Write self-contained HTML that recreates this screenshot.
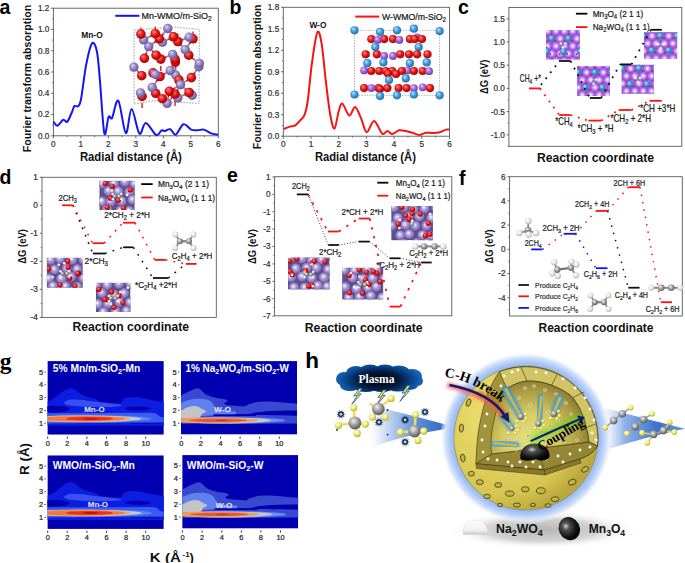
<!DOCTYPE html><html><head><meta charset="utf-8"><style>html,body{margin:0;padding:0;background:#fff;width:685px;height:563px;overflow:hidden}svg{display:block}</style></head><body>
<svg width="685" height="563" viewBox="0 0 685 563" font-family="'Liberation Sans', sans-serif">
<defs>
<radialGradient id="gRed" cx="45%" cy="45%" r="60%" fx="35%" fy="30%"><stop offset="0" stop-color="#ff8c8c"/><stop offset="0.55" stop-color="#e21414"/><stop offset="1" stop-color="#960000"/></radialGradient>
<radialGradient id="gPur" cx="45%" cy="45%" r="60%" fx="35%" fy="30%"><stop offset="0" stop-color="#dcd4f0"/><stop offset="0.55" stop-color="#9080c0"/><stop offset="1" stop-color="#5e4e8e"/></radialGradient>
<radialGradient id="gBlu" cx="45%" cy="45%" r="60%" fx="35%" fy="30%"><stop offset="0" stop-color="#b8e4ff"/><stop offset="0.55" stop-color="#3a98d8"/><stop offset="1" stop-color="#1a6aa8"/></radialGradient>
<radialGradient id="gVio" cx="45%" cy="45%" r="60%" fx="35%" fy="30%"><stop offset="0" stop-color="#e8c8ff"/><stop offset="0.55" stop-color="#a060d8"/><stop offset="1" stop-color="#7038a8"/></radialGradient>
<radialGradient id="gGray" cx="45%" cy="45%" r="60%" fx="35%" fy="30%"><stop offset="0" stop-color="#ffffff"/><stop offset="0.55" stop-color="#9a9a9a"/><stop offset="1" stop-color="#5a5a5a"/></radialGradient>
<radialGradient id="gWhite" cx="45%" cy="45%" r="60%" fx="35%" fy="30%"><stop offset="0" stop-color="#ffffff"/><stop offset="0.55" stop-color="#e8e8e8"/><stop offset="1" stop-color="#a8a8a8"/></radialGradient>
<radialGradient id="gYel" cx="45%" cy="45%" r="60%" fx="35%" fy="30%"><stop offset="0" stop-color="#ffffd0"/><stop offset="0.55" stop-color="#f0e870"/><stop offset="1" stop-color="#c8b838"/></radialGradient>
<radialGradient id="gBlack" cx="45%" cy="45%" r="60%" fx="35%" fy="30%"><stop offset="0" stop-color="#b0b0b0"/><stop offset="0.55" stop-color="#303030"/><stop offset="1" stop-color="#000000"/></radialGradient>
</defs>
<text x="-0.5" y="13.8" font-size="19.5" font-family="'Liberation Sans', sans-serif" fill="#000" font-weight="bold" >a</text>
<path d="M134,30 L174,27 L199.3,29.4 L199,103.4 L183,102.5 L154,100.7 L134,104 Z" fill="none" stroke="#555" stroke-width="0.55" stroke-dasharray="1.6 1.3"/>
<line x1="167.8" y1="28.5" x2="163.55" y2="33.65" stroke="#9484c4" stroke-width="1.7"/>
<line x1="163.55" y1="33.65" x2="159.3" y2="38.8" stroke="#e01818" stroke-width="1.7"/>
<line x1="167.8" y1="28.5" x2="170.65" y2="32.65" stroke="#9484c4" stroke-width="1.7"/>
<line x1="170.65" y1="32.65" x2="173.5" y2="36.8" stroke="#e01818" stroke-width="1.7"/>
<line x1="143.6" y1="39.9" x2="142.25" y2="37" stroke="#9484c4" stroke-width="1.7"/>
<line x1="142.25" y1="37" x2="140.9" y2="34.1" stroke="#e01818" stroke-width="1.7"/>
<line x1="143.6" y1="39.9" x2="149.45" y2="36.8" stroke="#9484c4" stroke-width="1.7"/>
<line x1="149.45" y1="36.8" x2="155.3" y2="33.7" stroke="#e01818" stroke-width="1.7"/>
<line x1="148.7" y1="46.6" x2="154" y2="42.7" stroke="#9484c4" stroke-width="1.7"/>
<line x1="154" y1="42.7" x2="159.3" y2="38.8" stroke="#e01818" stroke-width="1.7"/>
<line x1="148.7" y1="46.6" x2="146.55" y2="52.45" stroke="#9484c4" stroke-width="1.7"/>
<line x1="146.55" y1="52.45" x2="144.4" y2="58.3" stroke="#e01818" stroke-width="1.7"/>
<line x1="148.7" y1="46.6" x2="152.4" y2="50.9" stroke="#9484c4" stroke-width="1.7"/>
<line x1="152.4" y1="50.9" x2="156.1" y2="55.2" stroke="#e01818" stroke-width="1.7"/>
<line x1="162.4" y1="42.3" x2="158.85" y2="38" stroke="#9484c4" stroke-width="1.7"/>
<line x1="158.85" y1="38" x2="155.3" y2="33.7" stroke="#e01818" stroke-width="1.7"/>
<line x1="162.4" y1="42.3" x2="160.85" y2="40.55" stroke="#9484c4" stroke-width="1.7"/>
<line x1="160.85" y1="40.55" x2="159.3" y2="38.8" stroke="#e01818" stroke-width="1.7"/>
<line x1="162.4" y1="42.3" x2="167.95" y2="39.55" stroke="#9484c4" stroke-width="1.7"/>
<line x1="167.95" y1="39.55" x2="173.5" y2="36.8" stroke="#e01818" stroke-width="1.7"/>
<line x1="189.1" y1="37.2" x2="183.45" y2="39.35" stroke="#9484c4" stroke-width="1.7"/>
<line x1="183.45" y1="39.35" x2="177.8" y2="41.5" stroke="#e01818" stroke-width="1.7"/>
<line x1="189.1" y1="37.2" x2="191.05" y2="38" stroke="#9484c4" stroke-width="1.7"/>
<line x1="191.05" y1="38" x2="193" y2="38.8" stroke="#e01818" stroke-width="1.7"/>
<line x1="185.2" y1="49.7" x2="181.5" y2="45.6" stroke="#9484c4" stroke-width="1.7"/>
<line x1="181.5" y1="45.6" x2="177.8" y2="41.5" stroke="#e01818" stroke-width="1.7"/>
<line x1="185.2" y1="49.7" x2="189.1" y2="44.25" stroke="#9484c4" stroke-width="1.7"/>
<line x1="189.1" y1="44.25" x2="193" y2="38.8" stroke="#e01818" stroke-width="1.7"/>
<line x1="185.2" y1="49.7" x2="186.95" y2="52.45" stroke="#9484c4" stroke-width="1.7"/>
<line x1="186.95" y1="52.45" x2="188.7" y2="55.2" stroke="#e01818" stroke-width="1.7"/>
<line x1="172.7" y1="54.4" x2="166.75" y2="56.75" stroke="#9484c4" stroke-width="1.7"/>
<line x1="166.75" y1="56.75" x2="160.8" y2="59.1" stroke="#e01818" stroke-width="1.7"/>
<line x1="172.7" y1="54.4" x2="173.85" y2="56.75" stroke="#9484c4" stroke-width="1.7"/>
<line x1="173.85" y1="56.75" x2="175" y2="59.1" stroke="#e01818" stroke-width="1.7"/>
<line x1="172.7" y1="54.4" x2="174.05" y2="58.2" stroke="#9484c4" stroke-width="1.7"/>
<line x1="174.05" y1="58.2" x2="175.4" y2="62" stroke="#e01818" stroke-width="1.7"/>
<line x1="199.3" y1="63.4" x2="194" y2="59.3" stroke="#9484c4" stroke-width="1.7"/>
<line x1="194" y1="59.3" x2="188.7" y2="55.2" stroke="#e01818" stroke-width="1.7"/>
<line x1="133.9" y1="67.1" x2="137.8" y2="71.4" stroke="#9484c4" stroke-width="1.7"/>
<line x1="137.8" y1="71.4" x2="141.7" y2="75.7" stroke="#e01818" stroke-width="1.7"/>
<line x1="155.3" y1="74.5" x2="154.15" y2="73.7" stroke="#9484c4" stroke-width="1.7"/>
<line x1="154.15" y1="73.7" x2="153" y2="72.9" stroke="#e01818" stroke-width="1.7"/>
<line x1="155.3" y1="74.5" x2="157.65" y2="75.5" stroke="#9484c4" stroke-width="1.7"/>
<line x1="157.65" y1="75.5" x2="160" y2="76.5" stroke="#e01818" stroke-width="1.7"/>
<line x1="152.2" y1="87.4" x2="156.1" y2="81.95" stroke="#9484c4" stroke-width="1.7"/>
<line x1="156.1" y1="81.95" x2="160" y2="76.5" stroke="#e01818" stroke-width="1.7"/>
<line x1="152.2" y1="87.4" x2="153.95" y2="90.35" stroke="#9484c4" stroke-width="1.7"/>
<line x1="153.95" y1="90.35" x2="155.7" y2="93.3" stroke="#e01818" stroke-width="1.7"/>
<line x1="140.5" y1="92.9" x2="141.3" y2="94.65" stroke="#9484c4" stroke-width="1.7"/>
<line x1="141.3" y1="94.65" x2="142.1" y2="96.4" stroke="#e01818" stroke-width="1.7"/>
<line x1="170.2" y1="70.6" x2="172.6" y2="64.85" stroke="#9484c4" stroke-width="1.7"/>
<line x1="172.6" y1="64.85" x2="175" y2="59.1" stroke="#e01818" stroke-width="1.7"/>
<line x1="170.2" y1="70.6" x2="165.1" y2="73.55" stroke="#9484c4" stroke-width="1.7"/>
<line x1="165.1" y1="73.55" x2="160" y2="76.5" stroke="#e01818" stroke-width="1.7"/>
<line x1="170.2" y1="70.6" x2="174.55" y2="75.3" stroke="#9484c4" stroke-width="1.7"/>
<line x1="174.55" y1="75.3" x2="178.9" y2="80" stroke="#e01818" stroke-width="1.7"/>
<line x1="170.2" y1="70.6" x2="172.8" y2="66.3" stroke="#9484c4" stroke-width="1.7"/>
<line x1="172.8" y1="66.3" x2="175.4" y2="62" stroke="#e01818" stroke-width="1.7"/>
<line x1="167.1" y1="103.4" x2="164.75" y2="101.05" stroke="#9484c4" stroke-width="1.7"/>
<line x1="164.75" y1="101.05" x2="162.4" y2="98.7" stroke="#e01818" stroke-width="1.7"/>
<line x1="167.1" y1="103.4" x2="168.25" y2="97.35" stroke="#9484c4" stroke-width="1.7"/>
<line x1="168.25" y1="97.35" x2="169.4" y2="91.3" stroke="#e01818" stroke-width="1.7"/>
<line x1="167.1" y1="103.4" x2="171.05" y2="98.7" stroke="#9484c4" stroke-width="1.7"/>
<line x1="171.05" y1="98.7" x2="175" y2="94" stroke="#e01818" stroke-width="1.7"/>
<line x1="198.9" y1="66.7" x2="195.15" y2="72.15" stroke="#9484c4" stroke-width="1.7"/>
<line x1="195.15" y1="72.15" x2="191.4" y2="77.6" stroke="#e01818" stroke-width="1.7"/>
<line x1="175.8" y1="75.3" x2="177.35" y2="77.65" stroke="#9484c4" stroke-width="1.7"/>
<line x1="177.35" y1="77.65" x2="178.9" y2="80" stroke="#e01818" stroke-width="1.7"/>
<line x1="175.8" y1="75.3" x2="175.6" y2="68.65" stroke="#9484c4" stroke-width="1.7"/>
<line x1="175.6" y1="68.65" x2="175.4" y2="62" stroke="#e01818" stroke-width="1.7"/>
<line x1="180.5" y1="84.7" x2="174.95" y2="88" stroke="#9484c4" stroke-width="1.7"/>
<line x1="174.95" y1="88" x2="169.4" y2="91.3" stroke="#e01818" stroke-width="1.7"/>
<line x1="180.5" y1="84.7" x2="179.7" y2="82.35" stroke="#9484c4" stroke-width="1.7"/>
<line x1="179.7" y1="82.35" x2="178.9" y2="80" stroke="#e01818" stroke-width="1.7"/>
<line x1="180.5" y1="84.7" x2="185.95" y2="81.15" stroke="#9484c4" stroke-width="1.7"/>
<line x1="185.95" y1="81.15" x2="191.4" y2="77.6" stroke="#e01818" stroke-width="1.7"/>
<line x1="180.5" y1="84.7" x2="177.75" y2="89.35" stroke="#9484c4" stroke-width="1.7"/>
<line x1="177.75" y1="89.35" x2="175" y2="94" stroke="#e01818" stroke-width="1.7"/>
<line x1="180.5" y1="84.7" x2="184.8" y2="88.6" stroke="#9484c4" stroke-width="1.7"/>
<line x1="184.8" y1="88.6" x2="189.1" y2="92.5" stroke="#e01818" stroke-width="1.7"/>
<line x1="177.8" y1="97.9" x2="173.6" y2="94.6" stroke="#9484c4" stroke-width="1.7"/>
<line x1="173.6" y1="94.6" x2="169.4" y2="91.3" stroke="#e01818" stroke-width="1.7"/>
<line x1="177.8" y1="97.9" x2="176.4" y2="95.95" stroke="#9484c4" stroke-width="1.7"/>
<line x1="176.4" y1="95.95" x2="175" y2="94" stroke="#e01818" stroke-width="1.7"/>
<line x1="177.8" y1="97.9" x2="183.45" y2="95.2" stroke="#9484c4" stroke-width="1.7"/>
<line x1="183.45" y1="95.2" x2="189.1" y2="92.5" stroke="#e01818" stroke-width="1.7"/>
<line x1="192.2" y1="95.2" x2="190.65" y2="93.85" stroke="#9484c4" stroke-width="1.7"/>
<line x1="190.65" y1="93.85" x2="189.1" y2="92.5" stroke="#e01818" stroke-width="1.7"/>
<line x1="155.3" y1="26.5" x2="155.3" y2="31.5" stroke="#e01818" stroke-width="1.4"/>
<line x1="140.9" y1="27.5" x2="140.9" y2="32.5" stroke="#e01818" stroke-width="1.4"/>
<line x1="177.8" y1="33.5" x2="177.8" y2="38.5" stroke="#e01818" stroke-width="1.4"/>
<line x1="193" y1="31.5" x2="193" y2="36.5" stroke="#e01818" stroke-width="1.4"/>
<line x1="160.8" y1="66" x2="160.8" y2="71" stroke="#e01818" stroke-width="1.4"/>
<line x1="175" y1="101" x2="175" y2="106" stroke="#e01818" stroke-width="1.4"/>
<line x1="142.1" y1="103" x2="142.1" y2="108" stroke="#e01818" stroke-width="1.4"/>
<circle cx="141.7" cy="75.7" r="4.8" fill="url(#gRed)"/>
<circle cx="162.4" cy="42.3" r="4.7" fill="url(#gPur)"/>
<circle cx="148.7" cy="46.6" r="4.7" fill="url(#gPur)"/>
<circle cx="160.8" cy="59.1" r="4.8" fill="url(#gRed)"/>
<circle cx="177.8" cy="97.9" r="4.7" fill="url(#gPur)"/>
<circle cx="175" cy="94" r="4.8" fill="url(#gRed)"/>
<circle cx="198.9" cy="66.7" r="4.7" fill="url(#gPur)"/>
<circle cx="191.4" cy="77.6" r="4.8" fill="url(#gRed)"/>
<circle cx="192.2" cy="95.2" r="4.7" fill="url(#gPur)"/>
<circle cx="175.8" cy="75.3" r="4.7" fill="url(#gPur)"/>
<circle cx="142.1" cy="96.4" r="4.8" fill="url(#gRed)"/>
<circle cx="133.9" cy="67.1" r="4.7" fill="url(#gPur)"/>
<circle cx="175.4" cy="62" r="4.8" fill="url(#gRed)"/>
<circle cx="188.7" cy="55.2" r="4.8" fill="url(#gRed)"/>
<circle cx="199.3" cy="63.4" r="4.7" fill="url(#gPur)"/>
<circle cx="159.3" cy="38.8" r="4.8" fill="url(#gRed)"/>
<circle cx="143.6" cy="39.9" r="4.7" fill="url(#gPur)"/>
<circle cx="167.1" cy="103.4" r="4.7" fill="url(#gPur)"/>
<circle cx="156.1" cy="55.2" r="4.8" fill="url(#gRed)"/>
<circle cx="193" cy="38.8" r="4.8" fill="url(#gRed)"/>
<circle cx="160" cy="76.5" r="4.8" fill="url(#gRed)"/>
<circle cx="177.8" cy="41.5" r="4.8" fill="url(#gRed)"/>
<circle cx="140.9" cy="34.1" r="4.8" fill="url(#gRed)"/>
<circle cx="185.2" cy="49.7" r="4.7" fill="url(#gPur)"/>
<circle cx="178.9" cy="80" r="4.8" fill="url(#gRed)"/>
<circle cx="140.5" cy="92.9" r="4.7" fill="url(#gPur)"/>
<circle cx="169.4" cy="91.3" r="4.8" fill="url(#gRed)"/>
<circle cx="153" cy="72.9" r="4.8" fill="url(#gRed)"/>
<circle cx="155.3" cy="74.5" r="4.7" fill="url(#gPur)"/>
<circle cx="189.1" cy="37.2" r="4.7" fill="url(#gPur)"/>
<circle cx="170.2" cy="70.6" r="4.7" fill="url(#gPur)"/>
<circle cx="167.8" cy="28.5" r="4.7" fill="url(#gPur)"/>
<circle cx="173.5" cy="36.8" r="4.8" fill="url(#gRed)"/>
<circle cx="175" cy="59.1" r="4.8" fill="url(#gRed)"/>
<circle cx="144.4" cy="58.3" r="4.8" fill="url(#gRed)"/>
<circle cx="155.7" cy="93.3" r="4.8" fill="url(#gRed)"/>
<circle cx="172.7" cy="54.4" r="4.7" fill="url(#gPur)"/>
<circle cx="155.3" cy="33.7" r="4.8" fill="url(#gRed)"/>
<circle cx="152.2" cy="87.4" r="4.7" fill="url(#gPur)"/>
<circle cx="189.1" cy="92.5" r="4.8" fill="url(#gRed)"/>
<circle cx="162.4" cy="98.7" r="4.8" fill="url(#gRed)"/>
<circle cx="180.5" cy="84.7" r="4.7" fill="url(#gPur)"/>
<rect x="53.4" y="8.2" width="164.9" height="127.6" fill="none" stroke="#5a5a5a" stroke-width="0.9"/>
<line x1="53.4" y1="135.8" x2="53.4" y2="138.4" stroke="#555" stroke-width="0.9" />
<text x="53.4" y="146.8" font-size="8.2" font-family="'Liberation Sans', sans-serif" fill="#333" text-anchor="middle" stroke="#333" stroke-width="0.22" >0</text>
<line x1="80.88" y1="135.8" x2="80.88" y2="138.4" stroke="#555" stroke-width="0.9" />
<text x="80.88" y="146.8" font-size="8.2" font-family="'Liberation Sans', sans-serif" fill="#333" text-anchor="middle" stroke="#333" stroke-width="0.22" >1</text>
<line x1="108.37" y1="135.8" x2="108.37" y2="138.4" stroke="#555" stroke-width="0.9" />
<text x="108.37" y="146.8" font-size="8.2" font-family="'Liberation Sans', sans-serif" fill="#333" text-anchor="middle" stroke="#333" stroke-width="0.22" >2</text>
<line x1="135.85" y1="135.8" x2="135.85" y2="138.4" stroke="#555" stroke-width="0.9" />
<text x="135.85" y="146.8" font-size="8.2" font-family="'Liberation Sans', sans-serif" fill="#333" text-anchor="middle" stroke="#333" stroke-width="0.22" >3</text>
<line x1="163.33" y1="135.8" x2="163.33" y2="138.4" stroke="#555" stroke-width="0.9" />
<text x="163.33" y="146.8" font-size="8.2" font-family="'Liberation Sans', sans-serif" fill="#333" text-anchor="middle" stroke="#333" stroke-width="0.22" >4</text>
<line x1="190.82" y1="135.8" x2="190.82" y2="138.4" stroke="#555" stroke-width="0.9" />
<text x="190.82" y="146.8" font-size="8.2" font-family="'Liberation Sans', sans-serif" fill="#333" text-anchor="middle" stroke="#333" stroke-width="0.22" >5</text>
<line x1="218.3" y1="135.8" x2="218.3" y2="138.4" stroke="#555" stroke-width="0.9" />
<text x="218.3" y="146.8" font-size="8.2" font-family="'Liberation Sans', sans-serif" fill="#333" text-anchor="middle" stroke="#333" stroke-width="0.22" >6</text>
<line x1="67.14" y1="135.8" x2="67.14" y2="137.2" stroke="#555" stroke-width="0.8" />
<line x1="94.62" y1="135.8" x2="94.62" y2="137.2" stroke="#555" stroke-width="0.8" />
<line x1="122.11" y1="135.8" x2="122.11" y2="137.2" stroke="#555" stroke-width="0.8" />
<line x1="149.59" y1="135.8" x2="149.59" y2="137.2" stroke="#555" stroke-width="0.8" />
<line x1="177.08" y1="135.8" x2="177.08" y2="137.2" stroke="#555" stroke-width="0.8" />
<line x1="204.56" y1="135.8" x2="204.56" y2="137.2" stroke="#555" stroke-width="0.8" />
<line x1="51.2" y1="135.8" x2="53.4" y2="135.8" stroke="#555" stroke-width="0.9" />
<text x="49.3" y="138.7" font-size="8.2" font-family="'Liberation Sans', sans-serif" fill="#333" text-anchor="end" stroke="#333" stroke-width="0.22" >0.0</text>
<line x1="51.2" y1="114.53" x2="53.4" y2="114.53" stroke="#555" stroke-width="0.9" />
<text x="49.3" y="117.43" font-size="8.2" font-family="'Liberation Sans', sans-serif" fill="#333" text-anchor="end" stroke="#333" stroke-width="0.22" >0.2</text>
<line x1="51.2" y1="93.27" x2="53.4" y2="93.27" stroke="#555" stroke-width="0.9" />
<text x="49.3" y="96.17" font-size="8.2" font-family="'Liberation Sans', sans-serif" fill="#333" text-anchor="end" stroke="#333" stroke-width="0.22" >0.4</text>
<line x1="51.2" y1="72" x2="53.4" y2="72" stroke="#555" stroke-width="0.9" />
<text x="49.3" y="74.9" font-size="8.2" font-family="'Liberation Sans', sans-serif" fill="#333" text-anchor="end" stroke="#333" stroke-width="0.22" >0.6</text>
<line x1="51.2" y1="50.73" x2="53.4" y2="50.73" stroke="#555" stroke-width="0.9" />
<text x="49.3" y="53.63" font-size="8.2" font-family="'Liberation Sans', sans-serif" fill="#333" text-anchor="end" stroke="#333" stroke-width="0.22" >0.8</text>
<line x1="51.2" y1="29.47" x2="53.4" y2="29.47" stroke="#555" stroke-width="0.9" />
<text x="49.3" y="32.37" font-size="8.2" font-family="'Liberation Sans', sans-serif" fill="#333" text-anchor="end" stroke="#333" stroke-width="0.22" >1.0</text>
<line x1="51.2" y1="8.2" x2="53.4" y2="8.2" stroke="#555" stroke-width="0.9" />
<text x="49.3" y="11.1" font-size="8.2" font-family="'Liberation Sans', sans-serif" fill="#333" text-anchor="end" stroke="#333" stroke-width="0.22" >1.2</text>
<line x1="52.1" y1="125.17" x2="53.4" y2="125.17" stroke="#555" stroke-width="0.8" />
<line x1="52.1" y1="103.9" x2="53.4" y2="103.9" stroke="#555" stroke-width="0.8" />
<line x1="52.1" y1="82.63" x2="53.4" y2="82.63" stroke="#555" stroke-width="0.8" />
<line x1="52.1" y1="61.37" x2="53.4" y2="61.37" stroke="#555" stroke-width="0.8" />
<line x1="52.1" y1="40.1" x2="53.4" y2="40.1" stroke="#555" stroke-width="0.8" />
<line x1="52.1" y1="18.83" x2="53.4" y2="18.83" stroke="#555" stroke-width="0.8" />
<text x="30.9" y="152.3" font-size="10.5" font-family="'Liberation Sans', sans-serif" fill="#111" font-weight="bold" textLength="147.5" lengthAdjust="spacingAndGlyphs" transform="rotate(-90 30.9 152.3)" >Fourier transform absorption</text>
<text x="79.9" y="160.9" font-size="12" font-family="'Liberation Sans', sans-serif" fill="#111" font-weight="bold" textLength="102" lengthAdjust="spacingAndGlyphs" >Radial distance (Å)</text>
<line x1="115.3" y1="15.8" x2="139.4" y2="15.8" stroke="#1010ff" stroke-width="2" />
<text x="141.5" y="19.2" font-size="9" font-family="'Liberation Sans', sans-serif" fill="#1a1a1a" textLength="70" lengthAdjust="spacingAndGlyphs" stroke="#1a1a1a" stroke-width="0.22" >Mn-WMO/m-SiO<tspan baseline-shift="-28%" font-size="72%">2</tspan></text>
<text x="81.2" y="38.3" font-size="8.8" font-family="'Liberation Sans', sans-serif" fill="#111" font-weight="bold" textLength="21.5" lengthAdjust="spacingAndGlyphs" >Mn-O</text>
<path d="M53.5,121.8 C54.15,122.45 55.77,126.03 57.4,125.7 C59.03,125.37 61.67,120.45 63.3,119.8 C64.93,119.15 65.75,123.1 67.2,121.8 C68.65,120.5 70.8,114.62 72,112 C73.2,109.38 73.35,107.08 74.4,106.1 C75.45,105.12 77.17,107.4 78.3,106.1 C79.43,104.8 79.9,105.13 81.2,98.3 C82.5,91.47 84.3,74.27 86.1,65.1 C87.9,55.93 90.2,45.57 92,43.3 C93.8,41.03 95.6,45.58 96.9,51.5 C98.2,57.42 98.57,65.2 99.8,78.8 C101.03,92.4 102.83,126.75 104.3,133.1 C105.77,139.45 107.3,119.43 108.6,116.9 C109.9,114.37 110.48,120.6 112.1,117.9 C113.72,115.2 116.02,98.17 118.3,100.7 C120.58,103.23 123.58,131.7 125.8,133.1 C128.02,134.5 129.33,109.02 131.6,109.1 C133.87,109.18 137.03,131.3 139.4,133.6 C141.77,135.9 143,122.67 145.8,122.9 C148.6,123.13 153.57,133.77 156.2,135 C158.83,136.23 160.15,130.97 161.6,130.3 C163.05,129.63 163.45,131.18 164.9,131 C166.35,130.82 168.5,128.6 170.3,129.2 C172.1,129.8 173.5,135.43 175.7,134.6 C177.9,133.77 180.93,125.03 183.5,124.2 C186.07,123.37 188.72,128.58 191.1,129.6 C193.48,130.62 195.67,130.3 197.8,130.3 C199.93,130.3 201.55,129.05 203.9,129.6 C206.25,130.15 209.55,132.75 211.9,133.6 C214.25,134.45 216.98,134.52 218,134.7" fill="none" stroke="#1414f5" stroke-width="2" stroke-linejoin="round"/>
<text x="229.5" y="14.3" font-size="19.5" font-family="'Liberation Sans', sans-serif" fill="#000" font-weight="bold" >b</text>
<path d="M354.5,30.3 L439.6,30.3 L439.6,95.3 L354.5,95.3 Z" fill="none" stroke="#666" stroke-width="0.5" stroke-dasharray="1.5 1.2"/>
<circle cx="413.9" cy="28.7" r="4.1" fill="url(#gBlu)"/>
<circle cx="354.5" cy="30.3" r="4.1" fill="url(#gBlu)"/>
<circle cx="397" cy="30.3" r="4.1" fill="url(#gBlu)"/>
<circle cx="439.6" cy="31.1" r="4.1" fill="url(#gBlu)"/>
<circle cx="380.1" cy="31.9" r="4.1" fill="url(#gBlu)"/>
<circle cx="417.1" cy="37.5" r="3.9" fill="url(#gVio)"/>
<circle cx="371.3" cy="39.1" r="4.1" fill="url(#gRed)"/>
<circle cx="384.2" cy="39.1" r="4.1" fill="url(#gRed)"/>
<circle cx="393" cy="39.1" r="4.1" fill="url(#gRed)"/>
<circle cx="409.9" cy="39.1" r="4.1" fill="url(#gRed)"/>
<circle cx="414.7" cy="39.1" r="4.1" fill="url(#gRed)"/>
<circle cx="421.9" cy="39.1" r="4.1" fill="url(#gRed)"/>
<circle cx="377.7" cy="39.9" r="3.9" fill="url(#gVio)"/>
<circle cx="399.4" cy="39.9" r="3.9" fill="url(#gVio)"/>
<circle cx="375.3" cy="47.1" r="4.1" fill="url(#gBlu)"/>
<circle cx="418.7" cy="47.1" r="4.1" fill="url(#gBlu)"/>
<circle cx="365.7" cy="54.3" r="4.1" fill="url(#gRed)"/>
<circle cx="376.9" cy="54.3" r="4.1" fill="url(#gRed)"/>
<circle cx="400.2" cy="54.3" r="4.1" fill="url(#gRed)"/>
<circle cx="409" cy="54.3" r="4.1" fill="url(#gRed)"/>
<circle cx="417.1" cy="54.3" r="4.1" fill="url(#gRed)"/>
<circle cx="427.5" cy="54.3" r="4.1" fill="url(#gRed)"/>
<circle cx="384.2" cy="56" r="3.9" fill="url(#gVio)"/>
<circle cx="393" cy="56" r="3.9" fill="url(#gVio)"/>
<circle cx="383.4" cy="62.4" r="4.1" fill="url(#gBlu)"/>
<circle cx="426.7" cy="62.4" r="4.1" fill="url(#gBlu)"/>
<circle cx="367.3" cy="63.2" r="4.1" fill="url(#gBlu)"/>
<circle cx="409.9" cy="63.2" r="4.1" fill="url(#gBlu)"/>
<circle cx="364.1" cy="70.4" r="3.9" fill="url(#gVio)"/>
<circle cx="407.4" cy="70.4" r="3.9" fill="url(#gVio)"/>
<circle cx="371.3" cy="71" r="4.1" fill="url(#gRed)"/>
<circle cx="379.3" cy="71" r="4.1" fill="url(#gRed)"/>
<circle cx="385.8" cy="71" r="4.1" fill="url(#gRed)"/>
<circle cx="392.2" cy="71" r="4.1" fill="url(#gRed)"/>
<circle cx="401.8" cy="71" r="4.1" fill="url(#gRed)"/>
<circle cx="413.9" cy="71" r="4.1" fill="url(#gRed)"/>
<circle cx="422.7" cy="71" r="4.1" fill="url(#gRed)"/>
<circle cx="429.1" cy="71.2" r="3.9" fill="url(#gVio)"/>
<circle cx="388" cy="73.5" r="4.1" fill="url(#gRed)"/>
<circle cx="396" cy="74" r="4.1" fill="url(#gRed)"/>
<circle cx="405.8" cy="78.4" r="4.1" fill="url(#gBlu)"/>
<circle cx="389" cy="80" r="4.1" fill="url(#gBlu)"/>
<circle cx="422.7" cy="87.3" r="3.9" fill="url(#gVio)"/>
<circle cx="364.1" cy="88.1" r="4.1" fill="url(#gRed)"/>
<circle cx="378.5" cy="88.1" r="4.1" fill="url(#gRed)"/>
<circle cx="387.4" cy="88.1" r="4.1" fill="url(#gRed)"/>
<circle cx="398.6" cy="88.1" r="4.1" fill="url(#gRed)"/>
<circle cx="406.6" cy="88.1" r="4.1" fill="url(#gRed)"/>
<circle cx="430" cy="88.1" r="4.1" fill="url(#gRed)"/>
<circle cx="371.3" cy="88.1" r="3.9" fill="url(#gVio)"/>
<circle cx="413.9" cy="88.1" r="3.9" fill="url(#gVio)"/>
<circle cx="380" cy="89" r="4.1" fill="url(#gRed)"/>
<circle cx="354.5" cy="94.5" r="4.1" fill="url(#gBlu)"/>
<circle cx="413.9" cy="94.5" r="4.1" fill="url(#gBlu)"/>
<circle cx="397" cy="95.3" r="4.1" fill="url(#gBlu)"/>
<circle cx="439.6" cy="95.3" r="4.1" fill="url(#gBlu)"/>
<circle cx="380.1" cy="96.1" r="4.1" fill="url(#gBlu)"/>
<rect x="283.3" y="7.3" width="166.2" height="128.9" fill="none" stroke="#5a5a5a" stroke-width="0.9"/>
<line x1="283.3" y1="136.2" x2="283.3" y2="138.8" stroke="#555" stroke-width="0.9" />
<text x="283.3" y="147" font-size="8.2" font-family="'Liberation Sans', sans-serif" fill="#333" text-anchor="middle" stroke="#333" stroke-width="0.22" >0</text>
<line x1="311" y1="136.2" x2="311" y2="138.8" stroke="#555" stroke-width="0.9" />
<text x="311" y="147" font-size="8.2" font-family="'Liberation Sans', sans-serif" fill="#333" text-anchor="middle" stroke="#333" stroke-width="0.22" >1</text>
<line x1="338.7" y1="136.2" x2="338.7" y2="138.8" stroke="#555" stroke-width="0.9" />
<text x="338.7" y="147" font-size="8.2" font-family="'Liberation Sans', sans-serif" fill="#333" text-anchor="middle" stroke="#333" stroke-width="0.22" >2</text>
<line x1="366.4" y1="136.2" x2="366.4" y2="138.8" stroke="#555" stroke-width="0.9" />
<text x="366.4" y="147" font-size="8.2" font-family="'Liberation Sans', sans-serif" fill="#333" text-anchor="middle" stroke="#333" stroke-width="0.22" >3</text>
<line x1="394.1" y1="136.2" x2="394.1" y2="138.8" stroke="#555" stroke-width="0.9" />
<text x="394.1" y="147" font-size="8.2" font-family="'Liberation Sans', sans-serif" fill="#333" text-anchor="middle" stroke="#333" stroke-width="0.22" >4</text>
<line x1="421.8" y1="136.2" x2="421.8" y2="138.8" stroke="#555" stroke-width="0.9" />
<text x="421.8" y="147" font-size="8.2" font-family="'Liberation Sans', sans-serif" fill="#333" text-anchor="middle" stroke="#333" stroke-width="0.22" >5</text>
<line x1="449.5" y1="136.2" x2="449.5" y2="138.8" stroke="#555" stroke-width="0.9" />
<text x="449.5" y="147" font-size="8.2" font-family="'Liberation Sans', sans-serif" fill="#333" text-anchor="middle" stroke="#333" stroke-width="0.22" >6</text>
<line x1="297.15" y1="136.2" x2="297.15" y2="137.6" stroke="#555" stroke-width="0.8" />
<line x1="324.85" y1="136.2" x2="324.85" y2="137.6" stroke="#555" stroke-width="0.8" />
<line x1="352.55" y1="136.2" x2="352.55" y2="137.6" stroke="#555" stroke-width="0.8" />
<line x1="380.25" y1="136.2" x2="380.25" y2="137.6" stroke="#555" stroke-width="0.8" />
<line x1="407.95" y1="136.2" x2="407.95" y2="137.6" stroke="#555" stroke-width="0.8" />
<line x1="435.65" y1="136.2" x2="435.65" y2="137.6" stroke="#555" stroke-width="0.8" />
<line x1="281.1" y1="136.2" x2="283.3" y2="136.2" stroke="#555" stroke-width="0.9" />
<text x="279.2" y="139.1" font-size="8.2" font-family="'Liberation Sans', sans-serif" fill="#333" text-anchor="end" stroke="#333" stroke-width="0.22" >0.0</text>
<line x1="281.1" y1="114.72" x2="283.3" y2="114.72" stroke="#555" stroke-width="0.9" />
<text x="279.2" y="117.62" font-size="8.2" font-family="'Liberation Sans', sans-serif" fill="#333" text-anchor="end" stroke="#333" stroke-width="0.22" >0.3</text>
<line x1="281.1" y1="93.23" x2="283.3" y2="93.23" stroke="#555" stroke-width="0.9" />
<text x="279.2" y="96.13" font-size="8.2" font-family="'Liberation Sans', sans-serif" fill="#333" text-anchor="end" stroke="#333" stroke-width="0.22" >0.6</text>
<line x1="281.1" y1="71.75" x2="283.3" y2="71.75" stroke="#555" stroke-width="0.9" />
<text x="279.2" y="74.65" font-size="8.2" font-family="'Liberation Sans', sans-serif" fill="#333" text-anchor="end" stroke="#333" stroke-width="0.22" >0.9</text>
<line x1="281.1" y1="50.27" x2="283.3" y2="50.27" stroke="#555" stroke-width="0.9" />
<text x="279.2" y="53.17" font-size="8.2" font-family="'Liberation Sans', sans-serif" fill="#333" text-anchor="end" stroke="#333" stroke-width="0.22" >1.2</text>
<line x1="281.1" y1="28.78" x2="283.3" y2="28.78" stroke="#555" stroke-width="0.9" />
<text x="279.2" y="31.68" font-size="8.2" font-family="'Liberation Sans', sans-serif" fill="#333" text-anchor="end" stroke="#333" stroke-width="0.22" >1.5</text>
<line x1="281.1" y1="7.3" x2="283.3" y2="7.3" stroke="#555" stroke-width="0.9" />
<text x="279.2" y="10.2" font-size="8.2" font-family="'Liberation Sans', sans-serif" fill="#333" text-anchor="end" stroke="#333" stroke-width="0.22" >1.8</text>
<line x1="282" y1="125.46" x2="283.3" y2="125.46" stroke="#555" stroke-width="0.8" />
<line x1="282" y1="103.97" x2="283.3" y2="103.97" stroke="#555" stroke-width="0.8" />
<line x1="282" y1="82.49" x2="283.3" y2="82.49" stroke="#555" stroke-width="0.8" />
<line x1="282" y1="61.01" x2="283.3" y2="61.01" stroke="#555" stroke-width="0.8" />
<line x1="282" y1="39.52" x2="283.3" y2="39.52" stroke="#555" stroke-width="0.8" />
<line x1="282" y1="18.04" x2="283.3" y2="18.04" stroke="#555" stroke-width="0.8" />
<text x="261.5" y="149.2" font-size="10.5" font-family="'Liberation Sans', sans-serif" fill="#111" font-weight="bold" textLength="144.6" lengthAdjust="spacingAndGlyphs" transform="rotate(-90 261.5 149.2)" >Fourier transform absorption</text>
<text x="314.9" y="161.2" font-size="12" font-family="'Liberation Sans', sans-serif" fill="#111" font-weight="bold" textLength="101" lengthAdjust="spacingAndGlyphs" >Radial distance (Å)</text>
<line x1="355.3" y1="16.6" x2="379.3" y2="16.6" stroke="#ff1010" stroke-width="2" />
<text x="382" y="20" font-size="9" font-family="'Liberation Sans', sans-serif" fill="#1a1a1a" textLength="64" lengthAdjust="spacingAndGlyphs" stroke="#1a1a1a" stroke-width="0.22" >W-WMO/m-SiO<tspan baseline-shift="-28%" font-size="72%">2</tspan></text>
<text x="309.4" y="28" font-size="8.8" font-family="'Liberation Sans', sans-serif" fill="#111" font-weight="bold" textLength="17" lengthAdjust="spacingAndGlyphs" >W-O</text>
<path d="M283.4,129.2 C284.43,128.77 287.68,127.2 289.6,126.6 C291.52,126 293.12,126.67 294.9,125.6 C296.68,124.53 298.7,121.98 300.3,120.2 C301.9,118.42 303.27,118.1 304.5,114.9 C305.73,111.7 306.45,109.7 307.7,101 C308.95,92.3 310.4,74.13 312,62.7 C313.6,51.27 315.7,35.6 317.3,32.4 C318.9,29.2 320.17,35.27 321.6,43.5 C323.03,51.73 324.48,70.08 325.9,81.8 C327.32,93.52 328.68,105.97 330.1,113.8 C331.52,121.63 332.98,129.15 334.4,128.8 C335.82,128.45 337.28,115.9 338.6,111.7 C339.92,107.5 340.52,102.97 342.3,103.6 C344.08,104.23 347.17,114.93 349.3,115.5 C351.43,116.07 353.15,106.57 355.1,107 C357.05,107.43 359.07,113.88 361,118.1 C362.93,122.32 364.52,131.83 366.7,132.3 C368.88,132.77 371.52,120.68 374.1,120.9 C376.68,121.12 379.97,131.92 382.2,133.6 C384.43,135.28 385.83,130.93 387.5,131 C389.17,131.07 390.28,134.12 392.2,134 C394.12,133.88 396.75,130.8 399,130.3 C401.25,129.8 403.47,130.6 405.7,131 C407.93,131.4 410.17,132.03 412.4,132.7 C414.63,133.37 416.87,135 419.1,135 C421.33,135 423.57,133.03 425.8,132.7 C428.03,132.37 430.15,133.07 432.5,133 C434.85,132.93 437.65,132.87 439.9,132.3 C442.15,131.73 444.43,130.05 446,129.6 C447.57,129.15 448.75,129.6 449.3,129.6" fill="none" stroke="#f51414" stroke-width="2" stroke-linejoin="round"/>
<radialGradient id="gPurB" cx="50%" cy="50%" r="50%" fx="42%" fy="38%"><stop offset="0" stop-color="#ffffff"/><stop offset="0.2" stop-color="#ddd4f4"/><stop offset="0.5" stop-color="#a898d4"/><stop offset="0.85" stop-color="#8676ba"/><stop offset="1" stop-color="#5e4e8e"/></radialGradient>
<radialGradient id="gSpot"><stop offset="0" stop-color="#ffffff"/><stop offset="0.3" stop-color="#e4c4fc"/><stop offset="0.65" stop-color="#b478ee"/><stop offset="1" stop-color="#9a58dc"/></radialGradient>
<text x="458" y="14.2" font-size="19.5" font-family="'Liberation Sans', sans-serif" fill="#000" font-weight="bold" >c</text>
<rect x="508.9" y="7.4" width="172.9" height="138.9" fill="none" stroke="#5a5a5a" stroke-width="0.9"/>
<line x1="506.7" y1="18.8" x2="508.9" y2="18.8" stroke="#555" stroke-width="0.9" />
<text x="504.8" y="21.7" font-size="8.2" font-family="'Liberation Sans', sans-serif" fill="#333" text-anchor="end" stroke="#333" stroke-width="0.22" >1.5</text>
<line x1="506.7" y1="42" x2="508.9" y2="42" stroke="#555" stroke-width="0.9" />
<text x="504.8" y="44.9" font-size="8.2" font-family="'Liberation Sans', sans-serif" fill="#333" text-anchor="end" stroke="#333" stroke-width="0.22" >1.0</text>
<line x1="506.7" y1="65.2" x2="508.9" y2="65.2" stroke="#555" stroke-width="0.9" />
<text x="504.8" y="68.1" font-size="8.2" font-family="'Liberation Sans', sans-serif" fill="#333" text-anchor="end" stroke="#333" stroke-width="0.22" >0.5</text>
<line x1="506.7" y1="88.4" x2="508.9" y2="88.4" stroke="#555" stroke-width="0.9" />
<text x="504.8" y="91.3" font-size="8.2" font-family="'Liberation Sans', sans-serif" fill="#333" text-anchor="end" stroke="#333" stroke-width="0.22" >0.0</text>
<line x1="506.7" y1="111.6" x2="508.9" y2="111.6" stroke="#555" stroke-width="0.9" />
<text x="504.8" y="114.5" font-size="8.2" font-family="'Liberation Sans', sans-serif" fill="#333" text-anchor="end" stroke="#333" stroke-width="0.22" >-0.5</text>
<line x1="506.7" y1="134.8" x2="508.9" y2="134.8" stroke="#555" stroke-width="0.9" />
<text x="504.8" y="137.7" font-size="8.2" font-family="'Liberation Sans', sans-serif" fill="#333" text-anchor="end" stroke="#333" stroke-width="0.22" >-1.0</text>
<line x1="507.6" y1="30.4" x2="508.9" y2="30.4" stroke="#555" stroke-width="0.8" />
<line x1="507.6" y1="53.6" x2="508.9" y2="53.6" stroke="#555" stroke-width="0.8" />
<line x1="507.6" y1="76.8" x2="508.9" y2="76.8" stroke="#555" stroke-width="0.8" />
<line x1="507.6" y1="100" x2="508.9" y2="100" stroke="#555" stroke-width="0.8" />
<line x1="507.6" y1="123.2" x2="508.9" y2="123.2" stroke="#555" stroke-width="0.8" />
<line x1="507.6" y1="146.4" x2="508.9" y2="146.4" stroke="#555" stroke-width="0.8" />
<text x="487.8" y="94" font-size="10.5" font-family="'Liberation Sans', sans-serif" fill="#111" font-weight="bold" textLength="34.4" lengthAdjust="spacingAndGlyphs" transform="rotate(-90 487.8 94)" >ΔG (eV)</text>
<text x="537" y="162.3" font-size="12" font-family="'Liberation Sans', sans-serif" fill="#111" font-weight="bold" textLength="117" lengthAdjust="spacingAndGlyphs" >Reaction coordinate</text>
<line x1="575.9" y1="13.7" x2="587.4" y2="13.7" stroke="#000" stroke-width="1.8" />
<text x="592.7" y="17" font-size="9" font-family="'Liberation Sans', sans-serif" fill="#1a1a1a" textLength="50.5" lengthAdjust="spacingAndGlyphs" stroke="#1a1a1a" stroke-width="0.22" >Mn<tspan baseline-shift="-28%" font-size="72%">3</tspan>O<tspan baseline-shift="-28%" font-size="72%">4</tspan> (2 1 1)</text>
<line x1="575.9" y1="27.1" x2="587.4" y2="27.1" stroke="#ff1010" stroke-width="1.8" />
<text x="592.7" y="30.4" font-size="9" font-family="'Liberation Sans', sans-serif" fill="#1a1a1a" textLength="57" lengthAdjust="spacingAndGlyphs" stroke="#1a1a1a" stroke-width="0.22" >Na<tspan baseline-shift="-28%" font-size="72%">2</tspan>WO<tspan baseline-shift="-28%" font-size="72%">4</tspan> (1 1 1)</text>
<clipPath id="cc1"><rect x="546" y="30" width="34" height="29.5"/></clipPath>
<g clip-path="url(#cc1)">
<rect x="546" y="30" width="34" height="29.5" fill="#8c46d0"/>
<circle cx="547.5" cy="31" r="4.3" fill="url(#gSpot)"/>
<circle cx="555.9" cy="31" r="4.3" fill="url(#gSpot)"/>
<circle cx="564.3" cy="31" r="4.3" fill="url(#gSpot)"/>
<circle cx="572.7" cy="31" r="4.3" fill="url(#gSpot)"/>
<circle cx="581.1" cy="31" r="4.3" fill="url(#gSpot)"/>
<circle cx="543.3" cy="38.5" r="4.3" fill="url(#gSpot)"/>
<circle cx="551.7" cy="38.5" r="4.3" fill="url(#gSpot)"/>
<circle cx="560.1" cy="38.5" r="4.3" fill="url(#gSpot)"/>
<circle cx="568.5" cy="38.5" r="4.3" fill="url(#gSpot)"/>
<circle cx="576.9" cy="38.5" r="4.3" fill="url(#gSpot)"/>
<circle cx="547.5" cy="46" r="4.3" fill="url(#gSpot)"/>
<circle cx="555.9" cy="46" r="4.3" fill="url(#gSpot)"/>
<circle cx="564.3" cy="46" r="4.3" fill="url(#gSpot)"/>
<circle cx="572.7" cy="46" r="4.3" fill="url(#gSpot)"/>
<circle cx="581.1" cy="46" r="4.3" fill="url(#gSpot)"/>
<circle cx="543.3" cy="53.5" r="4.3" fill="url(#gSpot)"/>
<circle cx="551.7" cy="53.5" r="4.3" fill="url(#gSpot)"/>
<circle cx="560.1" cy="53.5" r="4.3" fill="url(#gSpot)"/>
<circle cx="568.5" cy="53.5" r="4.3" fill="url(#gSpot)"/>
<circle cx="576.9" cy="53.5" r="4.3" fill="url(#gSpot)"/>
<circle cx="547.5" cy="61" r="4.3" fill="url(#gSpot)"/>
<circle cx="555.9" cy="61" r="4.3" fill="url(#gSpot)"/>
<circle cx="564.3" cy="61" r="4.3" fill="url(#gSpot)"/>
<circle cx="572.7" cy="61" r="4.3" fill="url(#gSpot)"/>
<circle cx="581.1" cy="61" r="4.3" fill="url(#gSpot)"/>
<circle cx="551.7" cy="38.5" r="3.3" fill="url(#gBlu)"/>
<circle cx="551.7" cy="34.3" r="0.95" fill="#e82020"/>
<circle cx="548" cy="40.9" r="0.95" fill="#e82020"/>
<circle cx="555.4" cy="40.9" r="0.95" fill="#e82020"/>
<circle cx="568.5" cy="38.5" r="3.3" fill="url(#gBlu)"/>
<circle cx="568.5" cy="34.3" r="0.95" fill="#e82020"/>
<circle cx="564.8" cy="40.9" r="0.95" fill="#e82020"/>
<circle cx="572.2" cy="40.9" r="0.95" fill="#e82020"/>
<circle cx="546.7" cy="51.6" r="3.3" fill="url(#gBlu)"/>
<circle cx="546.7" cy="47.4" r="0.95" fill="#e82020"/>
<circle cx="543" cy="54" r="0.95" fill="#e82020"/>
<circle cx="550.4" cy="54" r="0.95" fill="#e82020"/>
<circle cx="563.5" cy="51.6" r="3.3" fill="url(#gBlu)"/>
<circle cx="563.5" cy="47.4" r="0.95" fill="#e82020"/>
<circle cx="559.8" cy="54" r="0.95" fill="#e82020"/>
<circle cx="567.2" cy="54" r="0.95" fill="#e82020"/>
<circle cx="580.3" cy="51.6" r="3.3" fill="url(#gBlu)"/>
<circle cx="580.3" cy="47.4" r="0.95" fill="#e82020"/>
<circle cx="576.6" cy="54" r="0.95" fill="#e82020"/>
<circle cx="584" cy="54" r="0.95" fill="#e82020"/>
<circle cx="563" cy="44.75" r="1.7" fill="#8a8a8a"/>
<circle cx="565.34" cy="43.4" r="1.2" fill="#f4f4f4"/>
<circle cx="560.66" cy="43.4" r="1.2" fill="#f4f4f4"/>
<circle cx="563" cy="47.45" r="1.2" fill="#f4f4f4"/>
</g>
<clipPath id="cc2"><rect x="577.2" y="66" width="32.8" height="29.9"/></clipPath>
<g clip-path="url(#cc2)">
<rect x="577.2" y="66" width="32.8" height="29.9" fill="#8c46d0"/>
<circle cx="573.9" cy="64.9" r="4.3" fill="url(#gSpot)"/>
<circle cx="582.3" cy="64.9" r="4.3" fill="url(#gSpot)"/>
<circle cx="590.7" cy="64.9" r="4.3" fill="url(#gSpot)"/>
<circle cx="599.1" cy="64.9" r="4.3" fill="url(#gSpot)"/>
<circle cx="607.5" cy="64.9" r="4.3" fill="url(#gSpot)"/>
<circle cx="578.1" cy="72.4" r="4.3" fill="url(#gSpot)"/>
<circle cx="586.5" cy="72.4" r="4.3" fill="url(#gSpot)"/>
<circle cx="594.9" cy="72.4" r="4.3" fill="url(#gSpot)"/>
<circle cx="603.3" cy="72.4" r="4.3" fill="url(#gSpot)"/>
<circle cx="611.7" cy="72.4" r="4.3" fill="url(#gSpot)"/>
<circle cx="573.9" cy="79.9" r="4.3" fill="url(#gSpot)"/>
<circle cx="582.3" cy="79.9" r="4.3" fill="url(#gSpot)"/>
<circle cx="590.7" cy="79.9" r="4.3" fill="url(#gSpot)"/>
<circle cx="599.1" cy="79.9" r="4.3" fill="url(#gSpot)"/>
<circle cx="607.5" cy="79.9" r="4.3" fill="url(#gSpot)"/>
<circle cx="578.1" cy="87.4" r="4.3" fill="url(#gSpot)"/>
<circle cx="586.5" cy="87.4" r="4.3" fill="url(#gSpot)"/>
<circle cx="594.9" cy="87.4" r="4.3" fill="url(#gSpot)"/>
<circle cx="603.3" cy="87.4" r="4.3" fill="url(#gSpot)"/>
<circle cx="611.7" cy="87.4" r="4.3" fill="url(#gSpot)"/>
<circle cx="573.9" cy="94.9" r="4.3" fill="url(#gSpot)"/>
<circle cx="582.3" cy="94.9" r="4.3" fill="url(#gSpot)"/>
<circle cx="590.7" cy="94.9" r="4.3" fill="url(#gSpot)"/>
<circle cx="599.1" cy="94.9" r="4.3" fill="url(#gSpot)"/>
<circle cx="607.5" cy="94.9" r="4.3" fill="url(#gSpot)"/>
<circle cx="578.1" cy="72.4" r="3.3" fill="url(#gBlu)"/>
<circle cx="578.1" cy="68.2" r="0.95" fill="#e82020"/>
<circle cx="574.4" cy="74.8" r="0.95" fill="#e82020"/>
<circle cx="581.8" cy="74.8" r="0.95" fill="#e82020"/>
<circle cx="594.9" cy="72.4" r="3.3" fill="url(#gBlu)"/>
<circle cx="594.9" cy="68.2" r="0.95" fill="#e82020"/>
<circle cx="591.2" cy="74.8" r="0.95" fill="#e82020"/>
<circle cx="598.6" cy="74.8" r="0.95" fill="#e82020"/>
<circle cx="611.7" cy="72.4" r="3.3" fill="url(#gBlu)"/>
<circle cx="611.7" cy="68.2" r="0.95" fill="#e82020"/>
<circle cx="608" cy="74.8" r="0.95" fill="#e82020"/>
<circle cx="615.4" cy="74.8" r="0.95" fill="#e82020"/>
<circle cx="585.6" cy="87.4" r="3.3" fill="url(#gBlu)"/>
<circle cx="585.6" cy="83.2" r="0.95" fill="#e82020"/>
<circle cx="581.9" cy="89.8" r="0.95" fill="#e82020"/>
<circle cx="589.3" cy="89.8" r="0.95" fill="#e82020"/>
<circle cx="602.4" cy="87.4" r="3.3" fill="url(#gBlu)"/>
<circle cx="602.4" cy="83.2" r="0.95" fill="#e82020"/>
<circle cx="598.7" cy="89.8" r="0.95" fill="#e82020"/>
<circle cx="606.1" cy="89.8" r="0.95" fill="#e82020"/>
<circle cx="593.6" cy="80.95" r="1.7" fill="#8a8a8a"/>
<circle cx="595.94" cy="79.6" r="1.2" fill="#f4f4f4"/>
<circle cx="591.26" cy="79.6" r="1.2" fill="#f4f4f4"/>
<circle cx="593.6" cy="83.65" r="1.2" fill="#f4f4f4"/>
</g>
<clipPath id="cc3"><rect x="644" y="32.2" width="33.2" height="26.6"/></clipPath>
<g clip-path="url(#cc3)">
<rect x="644" y="32.2" width="33.2" height="26.6" fill="#8c46d0"/>
<circle cx="639.3" cy="28.4" r="4.3" fill="url(#gSpot)"/>
<circle cx="647.7" cy="28.4" r="4.3" fill="url(#gSpot)"/>
<circle cx="656.1" cy="28.4" r="4.3" fill="url(#gSpot)"/>
<circle cx="664.5" cy="28.4" r="4.3" fill="url(#gSpot)"/>
<circle cx="672.9" cy="28.4" r="4.3" fill="url(#gSpot)"/>
<circle cx="681.3" cy="28.4" r="4.3" fill="url(#gSpot)"/>
<circle cx="643.5" cy="35.9" r="4.3" fill="url(#gSpot)"/>
<circle cx="651.9" cy="35.9" r="4.3" fill="url(#gSpot)"/>
<circle cx="660.3" cy="35.9" r="4.3" fill="url(#gSpot)"/>
<circle cx="668.7" cy="35.9" r="4.3" fill="url(#gSpot)"/>
<circle cx="677.1" cy="35.9" r="4.3" fill="url(#gSpot)"/>
<circle cx="639.3" cy="43.4" r="4.3" fill="url(#gSpot)"/>
<circle cx="647.7" cy="43.4" r="4.3" fill="url(#gSpot)"/>
<circle cx="656.1" cy="43.4" r="4.3" fill="url(#gSpot)"/>
<circle cx="664.5" cy="43.4" r="4.3" fill="url(#gSpot)"/>
<circle cx="672.9" cy="43.4" r="4.3" fill="url(#gSpot)"/>
<circle cx="681.3" cy="43.4" r="4.3" fill="url(#gSpot)"/>
<circle cx="643.5" cy="50.9" r="4.3" fill="url(#gSpot)"/>
<circle cx="651.9" cy="50.9" r="4.3" fill="url(#gSpot)"/>
<circle cx="660.3" cy="50.9" r="4.3" fill="url(#gSpot)"/>
<circle cx="668.7" cy="50.9" r="4.3" fill="url(#gSpot)"/>
<circle cx="677.1" cy="50.9" r="4.3" fill="url(#gSpot)"/>
<circle cx="639.3" cy="58.4" r="4.3" fill="url(#gSpot)"/>
<circle cx="647.7" cy="58.4" r="4.3" fill="url(#gSpot)"/>
<circle cx="656.1" cy="58.4" r="4.3" fill="url(#gSpot)"/>
<circle cx="664.5" cy="58.4" r="4.3" fill="url(#gSpot)"/>
<circle cx="672.9" cy="58.4" r="4.3" fill="url(#gSpot)"/>
<circle cx="681.3" cy="58.4" r="4.3" fill="url(#gSpot)"/>
<circle cx="643.5" cy="35.9" r="3.3" fill="url(#gBlu)"/>
<circle cx="643.5" cy="31.7" r="0.95" fill="#e82020"/>
<circle cx="639.8" cy="38.3" r="0.95" fill="#e82020"/>
<circle cx="647.2" cy="38.3" r="0.95" fill="#e82020"/>
<circle cx="660.3" cy="35.9" r="3.3" fill="url(#gBlu)"/>
<circle cx="660.3" cy="31.7" r="0.95" fill="#e82020"/>
<circle cx="656.6" cy="38.3" r="0.95" fill="#e82020"/>
<circle cx="664" cy="38.3" r="0.95" fill="#e82020"/>
<circle cx="677.1" cy="35.9" r="3.3" fill="url(#gBlu)"/>
<circle cx="677.1" cy="31.7" r="0.95" fill="#e82020"/>
<circle cx="673.4" cy="38.3" r="0.95" fill="#e82020"/>
<circle cx="680.8" cy="38.3" r="0.95" fill="#e82020"/>
<circle cx="651.8" cy="50.4" r="3.3" fill="url(#gBlu)"/>
<circle cx="651.8" cy="46.2" r="0.95" fill="#e82020"/>
<circle cx="648.1" cy="52.8" r="0.95" fill="#e82020"/>
<circle cx="655.5" cy="52.8" r="0.95" fill="#e82020"/>
<circle cx="668.6" cy="50.4" r="3.3" fill="url(#gBlu)"/>
<circle cx="668.6" cy="46.2" r="0.95" fill="#e82020"/>
<circle cx="664.9" cy="52.8" r="0.95" fill="#e82020"/>
<circle cx="672.3" cy="52.8" r="0.95" fill="#e82020"/>
<circle cx="660.6" cy="45.5" r="1.7" fill="#8a8a8a"/>
<circle cx="662.94" cy="44.15" r="1.2" fill="#f4f4f4"/>
<circle cx="658.26" cy="44.15" r="1.2" fill="#f4f4f4"/>
<circle cx="660.6" cy="48.2" r="1.2" fill="#f4f4f4"/>
</g>
<clipPath id="cc4"><rect x="621.6" y="64.8" width="32.3" height="29"/></clipPath>
<g clip-path="url(#cc4)">
<rect x="621.6" y="64.8" width="32.3" height="29" fill="#8c46d0"/>
<circle cx="618" cy="61" r="4.3" fill="url(#gSpot)"/>
<circle cx="626.4" cy="61" r="4.3" fill="url(#gSpot)"/>
<circle cx="634.8" cy="61" r="4.3" fill="url(#gSpot)"/>
<circle cx="643.2" cy="61" r="4.3" fill="url(#gSpot)"/>
<circle cx="651.6" cy="61" r="4.3" fill="url(#gSpot)"/>
<circle cx="622.2" cy="68.5" r="4.3" fill="url(#gSpot)"/>
<circle cx="630.6" cy="68.5" r="4.3" fill="url(#gSpot)"/>
<circle cx="639" cy="68.5" r="4.3" fill="url(#gSpot)"/>
<circle cx="647.4" cy="68.5" r="4.3" fill="url(#gSpot)"/>
<circle cx="655.8" cy="68.5" r="4.3" fill="url(#gSpot)"/>
<circle cx="618" cy="76" r="4.3" fill="url(#gSpot)"/>
<circle cx="626.4" cy="76" r="4.3" fill="url(#gSpot)"/>
<circle cx="634.8" cy="76" r="4.3" fill="url(#gSpot)"/>
<circle cx="643.2" cy="76" r="4.3" fill="url(#gSpot)"/>
<circle cx="651.6" cy="76" r="4.3" fill="url(#gSpot)"/>
<circle cx="622.2" cy="83.5" r="4.3" fill="url(#gSpot)"/>
<circle cx="630.6" cy="83.5" r="4.3" fill="url(#gSpot)"/>
<circle cx="639" cy="83.5" r="4.3" fill="url(#gSpot)"/>
<circle cx="647.4" cy="83.5" r="4.3" fill="url(#gSpot)"/>
<circle cx="655.8" cy="83.5" r="4.3" fill="url(#gSpot)"/>
<circle cx="618" cy="91" r="4.3" fill="url(#gSpot)"/>
<circle cx="626.4" cy="91" r="4.3" fill="url(#gSpot)"/>
<circle cx="634.8" cy="91" r="4.3" fill="url(#gSpot)"/>
<circle cx="643.2" cy="91" r="4.3" fill="url(#gSpot)"/>
<circle cx="651.6" cy="91" r="4.3" fill="url(#gSpot)"/>
<circle cx="622.2" cy="98.5" r="4.3" fill="url(#gSpot)"/>
<circle cx="630.6" cy="98.5" r="4.3" fill="url(#gSpot)"/>
<circle cx="639" cy="98.5" r="4.3" fill="url(#gSpot)"/>
<circle cx="647.4" cy="98.5" r="4.3" fill="url(#gSpot)"/>
<circle cx="655.8" cy="98.5" r="4.3" fill="url(#gSpot)"/>
<circle cx="622.2" cy="68.5" r="3.3" fill="url(#gBlu)"/>
<circle cx="622.2" cy="64.3" r="0.95" fill="#e82020"/>
<circle cx="618.5" cy="70.9" r="0.95" fill="#e82020"/>
<circle cx="625.9" cy="70.9" r="0.95" fill="#e82020"/>
<circle cx="639" cy="68.5" r="3.3" fill="url(#gBlu)"/>
<circle cx="639" cy="64.3" r="0.95" fill="#e82020"/>
<circle cx="635.3" cy="70.9" r="0.95" fill="#e82020"/>
<circle cx="642.7" cy="70.9" r="0.95" fill="#e82020"/>
<circle cx="655.8" cy="68.5" r="3.3" fill="url(#gBlu)"/>
<circle cx="655.8" cy="64.3" r="0.95" fill="#e82020"/>
<circle cx="652.1" cy="70.9" r="0.95" fill="#e82020"/>
<circle cx="659.5" cy="70.9" r="0.95" fill="#e82020"/>
<circle cx="630.1" cy="84.2" r="3.3" fill="url(#gBlu)"/>
<circle cx="630.1" cy="80" r="0.95" fill="#e82020"/>
<circle cx="626.4" cy="86.6" r="0.95" fill="#e82020"/>
<circle cx="633.8" cy="86.6" r="0.95" fill="#e82020"/>
<circle cx="646.9" cy="84.2" r="3.3" fill="url(#gBlu)"/>
<circle cx="646.9" cy="80" r="0.95" fill="#e82020"/>
<circle cx="643.2" cy="86.6" r="0.95" fill="#e82020"/>
<circle cx="650.6" cy="86.6" r="0.95" fill="#e82020"/>
<circle cx="637.75" cy="79.3" r="1.7" fill="#8a8a8a"/>
<circle cx="640.09" cy="77.95" r="1.2" fill="#f4f4f4"/>
<circle cx="635.41" cy="77.95" r="1.2" fill="#f4f4f4"/>
<circle cx="637.75" cy="82" r="1.2" fill="#f4f4f4"/>
</g>
<path d="M541,85 L559,61.5" fill="none" stroke="#111" stroke-width="1.8" stroke-dasharray="1.8 5.8"/>
<path d="M570.6,61 L589.8,98" fill="none" stroke="#111" stroke-width="1.8" stroke-dasharray="1.8 5.8"/>
<path d="M601.2,98 L620,64.4" fill="none" stroke="#111" stroke-width="1.8" stroke-dasharray="1.8 5.8"/>
<path d="M631.5,64.4 L650.8,29.8" fill="none" stroke="#111" stroke-width="1.8" stroke-dasharray="1.8 5.8"/>
<path d="M540,88.4 L559.2,115" fill="none" stroke="#ff1010" stroke-width="1.8" stroke-dasharray="1.8 5.8"/>
<path d="M570.6,115 L588.4,120.6" fill="none" stroke="#ff1010" stroke-width="1.8" stroke-dasharray="1.8 5.8"/>
<path d="M601.2,120.6 L618.8,110" fill="none" stroke="#ff1010" stroke-width="1.8" stroke-dasharray="1.8 5.8"/>
<path d="M631.5,110 L649.5,100.8" fill="none" stroke="#ff1010" stroke-width="1.8" stroke-dasharray="1.8 5.8"/>
<line x1="528.9" y1="88.4" x2="540" y2="88.4" stroke="#ff1010" stroke-width="1.8" />
<line x1="559.2" y1="115" x2="570.6" y2="115" stroke="#ff1010" stroke-width="1.8" />
<line x1="588.4" y1="120.6" x2="601.2" y2="120.6" stroke="#ff1010" stroke-width="1.8" />
<line x1="618.8" y1="110" x2="631.5" y2="110" stroke="#ff1010" stroke-width="1.8" />
<line x1="649.5" y1="100.8" x2="661.8" y2="100.8" stroke="#ff1010" stroke-width="1.8" />
<line x1="559" y1="61" x2="570.6" y2="61" stroke="#111" stroke-width="1.8" />
<line x1="589.8" y1="98" x2="601.2" y2="98" stroke="#111" stroke-width="1.8" />
<line x1="620" y1="64.4" x2="631.5" y2="64.4" stroke="#111" stroke-width="1.8" />
<line x1="650.8" y1="29.8" x2="661.8" y2="29.8" stroke="#111" stroke-width="1.8" />
<text x="519.8" y="82.3" font-size="10.2" font-family="'Liberation Sans', sans-serif" fill="#1a1a1a" textLength="21" lengthAdjust="spacingAndGlyphs" stroke="#1a1a1a" stroke-width="0.22" >CH<tspan baseline-shift="-28%" font-size="72%">4</tspan> +*</text>
<text x="555.2" y="124.7" font-size="10.2" font-family="'Liberation Sans', sans-serif" fill="#1a1a1a" textLength="17.5" lengthAdjust="spacingAndGlyphs" stroke="#1a1a1a" stroke-width="0.22" >*CH<tspan baseline-shift="-28%" font-size="72%">4</tspan></text>
<text x="577.6" y="132" font-size="10.2" font-family="'Liberation Sans', sans-serif" fill="#1a1a1a" textLength="36" lengthAdjust="spacingAndGlyphs" stroke="#1a1a1a" stroke-width="0.22" >*CH<tspan baseline-shift="-28%" font-size="72%">3</tspan> + *H</text>
<text x="610.4" y="121.9" font-size="10.2" font-family="'Liberation Sans', sans-serif" fill="#1a1a1a" textLength="40.7" lengthAdjust="spacingAndGlyphs" stroke="#1a1a1a" stroke-width="0.22" >*CH<tspan baseline-shift="-28%" font-size="72%">2</tspan> + 2*H</text>
<text x="640" y="111.6" font-size="10.2" font-family="'Liberation Sans', sans-serif" fill="#1a1a1a" textLength="35.4" lengthAdjust="spacingAndGlyphs" stroke="#1a1a1a" stroke-width="0.22" >*CH +3*H</text>
<text x="-0.5" y="183.5" font-size="19.5" font-family="'Liberation Sans', sans-serif" fill="#000" font-weight="bold" >d</text>
<rect x="42" y="177.3" width="174.3" height="140.1" fill="none" stroke="#5a5a5a" stroke-width="0.9"/>
<line x1="39.8" y1="177.28" x2="42" y2="177.28" stroke="#555" stroke-width="0.9" />
<text x="37.9" y="180.18" font-size="8.2" font-family="'Liberation Sans', sans-serif" fill="#333" text-anchor="end" stroke="#333" stroke-width="0.22" >1</text>
<line x1="39.8" y1="205.3" x2="42" y2="205.3" stroke="#555" stroke-width="0.9" />
<text x="37.9" y="208.2" font-size="8.2" font-family="'Liberation Sans', sans-serif" fill="#333" text-anchor="end" stroke="#333" stroke-width="0.22" >0</text>
<line x1="39.8" y1="233.32" x2="42" y2="233.32" stroke="#555" stroke-width="0.9" />
<text x="37.9" y="236.22" font-size="8.2" font-family="'Liberation Sans', sans-serif" fill="#333" text-anchor="end" stroke="#333" stroke-width="0.22" >-1</text>
<line x1="39.8" y1="261.34" x2="42" y2="261.34" stroke="#555" stroke-width="0.9" />
<text x="37.9" y="264.24" font-size="8.2" font-family="'Liberation Sans', sans-serif" fill="#333" text-anchor="end" stroke="#333" stroke-width="0.22" >-2</text>
<line x1="39.8" y1="289.36" x2="42" y2="289.36" stroke="#555" stroke-width="0.9" />
<text x="37.9" y="292.26" font-size="8.2" font-family="'Liberation Sans', sans-serif" fill="#333" text-anchor="end" stroke="#333" stroke-width="0.22" >-3</text>
<line x1="39.8" y1="317.38" x2="42" y2="317.38" stroke="#555" stroke-width="0.9" />
<text x="37.9" y="320.28" font-size="8.2" font-family="'Liberation Sans', sans-serif" fill="#333" text-anchor="end" stroke="#333" stroke-width="0.22" >-4</text>
<line x1="40.7" y1="191.29" x2="42" y2="191.29" stroke="#555" stroke-width="0.8" />
<line x1="40.7" y1="219.31" x2="42" y2="219.31" stroke="#555" stroke-width="0.8" />
<line x1="40.7" y1="247.33" x2="42" y2="247.33" stroke="#555" stroke-width="0.8" />
<line x1="40.7" y1="275.35" x2="42" y2="275.35" stroke="#555" stroke-width="0.8" />
<line x1="40.7" y1="303.37" x2="42" y2="303.37" stroke="#555" stroke-width="0.8" />
<text x="26.2" y="263.8" font-size="10.5" font-family="'Liberation Sans', sans-serif" fill="#111" font-weight="bold" textLength="34.7" lengthAdjust="spacingAndGlyphs" transform="rotate(-90 26.2 263.8)" >ΔG (eV)</text>
<text x="72.4" y="330.9" font-size="12" font-family="'Liberation Sans', sans-serif" fill="#111" font-weight="bold" textLength="116.6" lengthAdjust="spacingAndGlyphs" >Reaction coordinate</text>
<line x1="141.2" y1="184.1" x2="152.7" y2="184.1" stroke="#000" stroke-width="1.8" />
<text x="158" y="187.4" font-size="8.5" font-family="'Liberation Sans', sans-serif" fill="#1a1a1a" textLength="51" lengthAdjust="spacingAndGlyphs" stroke="#1a1a1a" stroke-width="0.22" >Mn<tspan baseline-shift="-28%" font-size="72%">3</tspan>O<tspan baseline-shift="-28%" font-size="72%">4</tspan> (2 1 1)</text>
<line x1="141.2" y1="197.5" x2="152.7" y2="197.5" stroke="#ff1010" stroke-width="1.8" />
<text x="158" y="200.8" font-size="8.5" font-family="'Liberation Sans', sans-serif" fill="#1a1a1a" textLength="57" lengthAdjust="spacingAndGlyphs" stroke="#1a1a1a" stroke-width="0.22" >Na<tspan baseline-shift="-28%" font-size="72%">2</tspan>WO<tspan baseline-shift="-28%" font-size="72%">4</tspan> (1 1 1)</text>
<clipPath id="cc5"><rect x="99.3" y="180.8" width="35.4" height="29.2"/></clipPath>
<g clip-path="url(#cc5)">
<rect x="99.3" y="180.8" width="35.4" height="29.2" fill="#5e5090"/>
<circle cx="102.39" cy="183.51" r="5.3" fill="url(#gPurB)"/>
<circle cx="114" cy="183.38" r="5.3" fill="url(#gPurB)"/>
<circle cx="124.94" cy="181.67" r="5.3" fill="url(#gPurB)"/>
<circle cx="134.57" cy="183.86" r="5.3" fill="url(#gPurB)"/>
<circle cx="108.45" cy="190.87" r="5.3" fill="url(#gPurB)"/>
<circle cx="118.15" cy="191.19" r="5.3" fill="url(#gPurB)"/>
<circle cx="129.38" cy="191.98" r="5.3" fill="url(#gPurB)"/>
<circle cx="138.79" cy="191.12" r="5.3" fill="url(#gPurB)"/>
<circle cx="101.89" cy="201.44" r="5.3" fill="url(#gPurB)"/>
<circle cx="110.62" cy="201.51" r="5.3" fill="url(#gPurB)"/>
<circle cx="121.55" cy="201.08" r="5.3" fill="url(#gPurB)"/>
<circle cx="132.52" cy="199.6" r="5.3" fill="url(#gPurB)"/>
<circle cx="107.04" cy="209.12" r="5.3" fill="url(#gPurB)"/>
<circle cx="120.36" cy="210.69" r="5.3" fill="url(#gPurB)"/>
<circle cx="129.28" cy="210.91" r="5.3" fill="url(#gPurB)"/>
<circle cx="118.31" cy="200.24" r="2.6" fill="url(#gRed)"/>
<circle cx="107.14" cy="207.39" r="2.6" fill="url(#gRed)"/>
<circle cx="123.37" cy="208.09" r="2.6" fill="url(#gRed)"/>
<circle cx="130.15" cy="189.93" r="2.6" fill="url(#gRed)"/>
<circle cx="112.36" cy="186.31" r="2.6" fill="url(#gRed)"/>
<circle cx="105.17" cy="183.57" r="2.6" fill="url(#gRed)"/>
<circle cx="110.37" cy="198.2" r="2.6" fill="url(#gRed)"/>
<circle cx="101.41" cy="199.88" r="1.3" fill="#fafafa"/>
<circle cx="111.91" cy="190.61" r="1.3" fill="#fafafa"/>
<circle cx="127" cy="194.91" r="1.3" fill="#fafafa"/>
<circle cx="112.7" cy="194" r="1.3" fill="#f4f4f4"/>
<circle cx="121.3" cy="194" r="1.3" fill="#f4f4f4"/>
<circle cx="112.7" cy="199" r="1.3" fill="#f4f4f4"/>
<circle cx="121.3" cy="199" r="1.3" fill="#f4f4f4"/>
<circle cx="114.8" cy="196.4" r="2.1" fill="url(#gGray)"/>
<circle cx="119.2" cy="196.4" r="2.1" fill="url(#gGray)"/>
</g>
<clipPath id="cc6"><rect x="46.8" y="257.7" width="35.9" height="30"/></clipPath>
<g clip-path="url(#cc6)">
<rect x="46.8" y="257.7" width="35.9" height="30" fill="#5e5090"/>
<circle cx="50.65" cy="259.66" r="5.3" fill="url(#gPurB)"/>
<circle cx="59.96" cy="258.5" r="5.3" fill="url(#gPurB)"/>
<circle cx="72.17" cy="259.63" r="5.3" fill="url(#gPurB)"/>
<circle cx="83.46" cy="259.4" r="5.3" fill="url(#gPurB)"/>
<circle cx="54.43" cy="269.42" r="5.3" fill="url(#gPurB)"/>
<circle cx="66.8" cy="268.49" r="5.3" fill="url(#gPurB)"/>
<circle cx="77.23" cy="269.14" r="5.3" fill="url(#gPurB)"/>
<circle cx="87.19" cy="268.83" r="5.3" fill="url(#gPurB)"/>
<circle cx="49.01" cy="278.43" r="5.3" fill="url(#gPurB)"/>
<circle cx="61.27" cy="278.53" r="5.3" fill="url(#gPurB)"/>
<circle cx="71.22" cy="276.72" r="5.3" fill="url(#gPurB)"/>
<circle cx="83.62" cy="278.43" r="5.3" fill="url(#gPurB)"/>
<circle cx="52.92" cy="285.97" r="5.3" fill="url(#gPurB)"/>
<circle cx="65.54" cy="286.2" r="5.3" fill="url(#gPurB)"/>
<circle cx="77.49" cy="286.91" r="5.3" fill="url(#gPurB)"/>
<circle cx="86.24" cy="287.07" r="5.3" fill="url(#gPurB)"/>
<circle cx="60.02" cy="284.82" r="2.6" fill="url(#gRed)"/>
<circle cx="78.63" cy="273.11" r="2.6" fill="url(#gRed)"/>
<circle cx="69.65" cy="278.24" r="2.6" fill="url(#gRed)"/>
<circle cx="75.11" cy="286.04" r="2.6" fill="url(#gRed)"/>
<circle cx="48.76" cy="268.82" r="2.6" fill="url(#gRed)"/>
<circle cx="68.2" cy="267.22" r="2.6" fill="url(#gRed)"/>
<circle cx="67.77" cy="261.21" r="2.6" fill="url(#gRed)"/>
<circle cx="77.63" cy="273.41" r="2.6" fill="url(#gRed)"/>
<circle cx="52.53" cy="276.93" r="1.3" fill="#fafafa"/>
<circle cx="58.76" cy="264.8" r="1.3" fill="#fafafa"/>
<circle cx="64.23" cy="263.29" r="1.3" fill="#fafafa"/>
<circle cx="60.45" cy="271.3" r="1.3" fill="#f4f4f4"/>
<circle cx="69.05" cy="271.3" r="1.3" fill="#f4f4f4"/>
<circle cx="60.45" cy="276.3" r="1.3" fill="#f4f4f4"/>
<circle cx="69.05" cy="276.3" r="1.3" fill="#f4f4f4"/>
<circle cx="62.55" cy="273.7" r="2.1" fill="url(#gGray)"/>
<circle cx="66.95" cy="273.7" r="2.1" fill="url(#gGray)"/>
</g>
<clipPath id="cc7"><rect x="95.9" y="282.8" width="34.6" height="29.2"/></clipPath>
<g clip-path="url(#cc7)">
<rect x="95.9" y="282.8" width="34.6" height="29.2" fill="#5e5090"/>
<circle cx="96.32" cy="285.16" r="5.3" fill="url(#gPurB)"/>
<circle cx="107.09" cy="284.89" r="5.3" fill="url(#gPurB)"/>
<circle cx="118.97" cy="283.74" r="5.3" fill="url(#gPurB)"/>
<circle cx="130.39" cy="283.69" r="5.3" fill="url(#gPurB)"/>
<circle cx="101.91" cy="292.82" r="5.3" fill="url(#gPurB)"/>
<circle cx="113.97" cy="294.58" r="5.3" fill="url(#gPurB)"/>
<circle cx="124.07" cy="293.14" r="5.3" fill="url(#gPurB)"/>
<circle cx="136.58" cy="294.87" r="5.3" fill="url(#gPurB)"/>
<circle cx="97.82" cy="303.94" r="5.3" fill="url(#gPurB)"/>
<circle cx="107.77" cy="303.66" r="5.3" fill="url(#gPurB)"/>
<circle cx="119.5" cy="301.95" r="5.3" fill="url(#gPurB)"/>
<circle cx="129.98" cy="302.34" r="5.3" fill="url(#gPurB)"/>
<circle cx="103.39" cy="312" r="5.3" fill="url(#gPurB)"/>
<circle cx="115.77" cy="311.49" r="5.3" fill="url(#gPurB)"/>
<circle cx="126.49" cy="310.75" r="5.3" fill="url(#gPurB)"/>
<circle cx="98.84" cy="289.4" r="2.6" fill="url(#gRed)"/>
<circle cx="119.08" cy="295.43" r="2.6" fill="url(#gRed)"/>
<circle cx="107.14" cy="299.73" r="2.6" fill="url(#gRed)"/>
<circle cx="111.67" cy="291.95" r="2.6" fill="url(#gRed)"/>
<circle cx="122.8" cy="302.81" r="2.6" fill="url(#gRed)"/>
<circle cx="104.86" cy="299.42" r="2.6" fill="url(#gRed)"/>
<circle cx="114.02" cy="307.6" r="2.6" fill="url(#gRed)"/>
<circle cx="120.22" cy="292.06" r="1.3" fill="#fafafa"/>
<circle cx="127.89" cy="287.78" r="1.3" fill="#fafafa"/>
<circle cx="110.69" cy="303.88" r="1.3" fill="#fafafa"/>
<circle cx="108.9" cy="296" r="1.3" fill="#f4f4f4"/>
<circle cx="117.5" cy="296" r="1.3" fill="#f4f4f4"/>
<circle cx="108.9" cy="301" r="1.3" fill="#f4f4f4"/>
<circle cx="117.5" cy="301" r="1.3" fill="#f4f4f4"/>
<circle cx="111" cy="298.4" r="2.1" fill="url(#gGray)"/>
<circle cx="115.4" cy="298.4" r="2.1" fill="url(#gGray)"/>
</g>
<path d="M73,205.3 L92.8,253.5" fill="none" stroke="#111" stroke-width="1.5" stroke-dasharray="1.8 6.2"/>
<path d="M105,253.5 L123.2,247.3" fill="none" stroke="#111" stroke-width="1.5" stroke-dasharray="1.8 6.2"/>
<path d="M133.4,247.3 L152.9,278" fill="none" stroke="#111" stroke-width="1.5" stroke-dasharray="1.8 6.2"/>
<path d="M168.3,278 L185.8,263.9" fill="none" stroke="#111" stroke-width="1.5" stroke-dasharray="1.8 6.2"/>
<path d="M73,205.3 L92.6,243.2" fill="none" stroke="#ff1010" stroke-width="1.5" stroke-dasharray="1.8 6.2"/>
<path d="M104.2,243.2 L123,222.7" fill="none" stroke="#ff1010" stroke-width="1.5" stroke-dasharray="1.8 6.2"/>
<path d="M135,222.7 L154.8,259.9" fill="none" stroke="#ff1010" stroke-width="1.5" stroke-dasharray="1.8 6.2"/>
<path d="M165.6,259.9 L185.8,263.9" fill="none" stroke="#ff1010" stroke-width="1.5" stroke-dasharray="1.8 6.2"/>
<line x1="62.1" y1="205.3" x2="73" y2="205.3" stroke="#ff1010" stroke-width="1.8" />
<line x1="92.6" y1="243.2" x2="104.2" y2="243.2" stroke="#ff1010" stroke-width="1.8" />
<line x1="123" y1="222.7" x2="135" y2="222.7" stroke="#ff1010" stroke-width="1.8" />
<line x1="154.8" y1="259.9" x2="165.6" y2="259.9" stroke="#ff1010" stroke-width="1.8" />
<line x1="185.8" y1="263.9" x2="196.6" y2="263.9" stroke="#ff1010" stroke-width="1.8" />
<line x1="92.8" y1="253.5" x2="105" y2="253.5" stroke="#111" stroke-width="1.8" />
<line x1="123.2" y1="247.3" x2="133.4" y2="247.3" stroke="#111" stroke-width="1.8" />
<line x1="152.9" y1="278" x2="168.3" y2="278" stroke="#111" stroke-width="1.8" />
<text x="58.4" y="201" font-size="9.1" font-family="'Liberation Sans', sans-serif" fill="#1a1a1a" textLength="18.5" lengthAdjust="spacingAndGlyphs" stroke="#1a1a1a" stroke-width="0.22" >2CH<tspan baseline-shift="-28%" font-size="72%">3</tspan></text>
<text x="104.2" y="217.8" font-size="9.1" font-family="'Liberation Sans', sans-serif" fill="#1a1a1a" textLength="45.8" lengthAdjust="spacingAndGlyphs" stroke="#1a1a1a" stroke-width="0.22" >2*CH<tspan baseline-shift="-28%" font-size="72%">2</tspan> + 2*H</text>
<text x="84.5" y="264" font-size="9.1" font-family="'Liberation Sans', sans-serif" fill="#1a1a1a" textLength="23.4" lengthAdjust="spacingAndGlyphs" stroke="#1a1a1a" stroke-width="0.22" >2*CH<tspan baseline-shift="-28%" font-size="72%">3</tspan></text>
<text x="135" y="287.7" font-size="9.1" font-family="'Liberation Sans', sans-serif" fill="#1a1a1a" textLength="42.2" lengthAdjust="spacingAndGlyphs" stroke="#1a1a1a" stroke-width="0.22" >*C<tspan baseline-shift="-28%" font-size="72%">2</tspan>H<tspan baseline-shift="-28%" font-size="72%">4</tspan> +2*H</text>
<text x="171.8" y="258.5" font-size="9.1" font-family="'Liberation Sans', sans-serif" fill="#1a1a1a" textLength="40.5" lengthAdjust="spacingAndGlyphs" stroke="#1a1a1a" stroke-width="0.22" >C<tspan baseline-shift="-28%" font-size="72%">2</tspan>H<tspan baseline-shift="-28%" font-size="72%">4</tspan> + 2*H</text>
<line x1="179.8" y1="241.3" x2="175.4" y2="234.5" stroke="#8a8a8a" stroke-width="1.7" />
<line x1="179.8" y1="241.3" x2="175.2" y2="248" stroke="#8a8a8a" stroke-width="1.7" />
<line x1="189" y1="241.3" x2="193.4" y2="234.5" stroke="#8a8a8a" stroke-width="1.7" />
<line x1="189" y1="241.3" x2="193.6" y2="248" stroke="#8a8a8a" stroke-width="1.7" />
<circle cx="175.4" cy="234.5" r="2.9" fill="url(#gWhite)"/>
<circle cx="175.2" cy="248" r="2.9" fill="url(#gWhite)"/>
<circle cx="193.4" cy="234.5" r="2.9" fill="url(#gWhite)"/>
<circle cx="193.6" cy="248" r="2.9" fill="url(#gWhite)"/>
<line x1="179.8" y1="241.3" x2="189" y2="241.3" stroke="#8a8a8a" stroke-width="2.4" />
<circle cx="179.8" cy="241.3" r="3" fill="url(#gGray)"/>
<circle cx="189" cy="241.3" r="3" fill="url(#gGray)"/>
<text x="227" y="181.6" font-size="19.5" font-family="'Liberation Sans', sans-serif" fill="#000" font-weight="bold" >e</text>
<rect x="274.6" y="176.7" width="177.2" height="139.1" fill="none" stroke="#5a5a5a" stroke-width="0.9"/>
<line x1="272.4" y1="177.01" x2="274.6" y2="177.01" stroke="#555" stroke-width="0.9" />
<text x="270.5" y="179.91" font-size="8.2" font-family="'Liberation Sans', sans-serif" fill="#333" text-anchor="end" stroke="#333" stroke-width="0.22" >1</text>
<line x1="272.4" y1="194.4" x2="274.6" y2="194.4" stroke="#555" stroke-width="0.9" />
<text x="270.5" y="197.3" font-size="8.2" font-family="'Liberation Sans', sans-serif" fill="#333" text-anchor="end" stroke="#333" stroke-width="0.22" >0</text>
<line x1="272.4" y1="211.79" x2="274.6" y2="211.79" stroke="#555" stroke-width="0.9" />
<text x="270.5" y="214.69" font-size="8.2" font-family="'Liberation Sans', sans-serif" fill="#333" text-anchor="end" stroke="#333" stroke-width="0.22" >-1</text>
<line x1="272.4" y1="229.18" x2="274.6" y2="229.18" stroke="#555" stroke-width="0.9" />
<text x="270.5" y="232.08" font-size="8.2" font-family="'Liberation Sans', sans-serif" fill="#333" text-anchor="end" stroke="#333" stroke-width="0.22" >-2</text>
<line x1="272.4" y1="246.57" x2="274.6" y2="246.57" stroke="#555" stroke-width="0.9" />
<text x="270.5" y="249.47" font-size="8.2" font-family="'Liberation Sans', sans-serif" fill="#333" text-anchor="end" stroke="#333" stroke-width="0.22" >-3</text>
<line x1="272.4" y1="263.96" x2="274.6" y2="263.96" stroke="#555" stroke-width="0.9" />
<text x="270.5" y="266.86" font-size="8.2" font-family="'Liberation Sans', sans-serif" fill="#333" text-anchor="end" stroke="#333" stroke-width="0.22" >-4</text>
<line x1="272.4" y1="281.35" x2="274.6" y2="281.35" stroke="#555" stroke-width="0.9" />
<text x="270.5" y="284.25" font-size="8.2" font-family="'Liberation Sans', sans-serif" fill="#333" text-anchor="end" stroke="#333" stroke-width="0.22" >-5</text>
<line x1="272.4" y1="298.74" x2="274.6" y2="298.74" stroke="#555" stroke-width="0.9" />
<text x="270.5" y="301.64" font-size="8.2" font-family="'Liberation Sans', sans-serif" fill="#333" text-anchor="end" stroke="#333" stroke-width="0.22" >-6</text>
<line x1="272.4" y1="316.13" x2="274.6" y2="316.13" stroke="#555" stroke-width="0.9" />
<text x="270.5" y="319.03" font-size="8.2" font-family="'Liberation Sans', sans-serif" fill="#333" text-anchor="end" stroke="#333" stroke-width="0.22" >-7</text>
<line x1="273.3" y1="185.71" x2="274.6" y2="185.71" stroke="#555" stroke-width="0.8" />
<line x1="273.3" y1="203.09" x2="274.6" y2="203.09" stroke="#555" stroke-width="0.8" />
<line x1="273.3" y1="220.49" x2="274.6" y2="220.49" stroke="#555" stroke-width="0.8" />
<line x1="273.3" y1="237.88" x2="274.6" y2="237.88" stroke="#555" stroke-width="0.8" />
<line x1="273.3" y1="255.27" x2="274.6" y2="255.27" stroke="#555" stroke-width="0.8" />
<line x1="273.3" y1="272.65" x2="274.6" y2="272.65" stroke="#555" stroke-width="0.8" />
<line x1="273.3" y1="290.05" x2="274.6" y2="290.05" stroke="#555" stroke-width="0.8" />
<line x1="273.3" y1="307.44" x2="274.6" y2="307.44" stroke="#555" stroke-width="0.8" />
<text x="256.4" y="264" font-size="10.5" font-family="'Liberation Sans', sans-serif" fill="#111" font-weight="bold" textLength="35" lengthAdjust="spacingAndGlyphs" transform="rotate(-90 256.4 264)" >ΔG (eV)</text>
<text x="304.7" y="332.4" font-size="12" font-family="'Liberation Sans', sans-serif" fill="#111" font-weight="bold" textLength="118" lengthAdjust="spacingAndGlyphs" >Reaction coordinate</text>
<line x1="377.3" y1="182.7" x2="388.3" y2="182.7" stroke="#000" stroke-width="1.8" />
<text x="395.8" y="186" font-size="8.5" font-family="'Liberation Sans', sans-serif" fill="#1a1a1a" textLength="49.2" lengthAdjust="spacingAndGlyphs" stroke="#1a1a1a" stroke-width="0.22" >Mn<tspan baseline-shift="-28%" font-size="72%">3</tspan>O<tspan baseline-shift="-28%" font-size="72%">4</tspan> (2 1 1)</text>
<line x1="377.3" y1="195.7" x2="388.3" y2="195.7" stroke="#ff1010" stroke-width="1.8" />
<text x="395.8" y="199" font-size="8.5" font-family="'Liberation Sans', sans-serif" fill="#1a1a1a" textLength="54.7" lengthAdjust="spacingAndGlyphs" stroke="#1a1a1a" stroke-width="0.22" >Na<tspan baseline-shift="-28%" font-size="72%">2</tspan>WO<tspan baseline-shift="-28%" font-size="72%">4</tspan> (1 1 1)</text>
<clipPath id="cc8"><rect x="391.2" y="206" width="41.8" height="34.2"/></clipPath>
<g clip-path="url(#cc8)">
<rect x="391.2" y="206" width="41.8" height="34.2" fill="#5e5090"/>
<circle cx="393.77" cy="207.1" r="5.3" fill="url(#gPurB)"/>
<circle cx="403.99" cy="207" r="5.3" fill="url(#gPurB)"/>
<circle cx="413.62" cy="209.2" r="5.3" fill="url(#gPurB)"/>
<circle cx="424.51" cy="208.34" r="5.3" fill="url(#gPurB)"/>
<circle cx="436.26" cy="207.89" r="5.3" fill="url(#gPurB)"/>
<circle cx="397.76" cy="217.79" r="5.3" fill="url(#gPurB)"/>
<circle cx="408.45" cy="216.36" r="5.3" fill="url(#gPurB)"/>
<circle cx="419.24" cy="216.44" r="5.3" fill="url(#gPurB)"/>
<circle cx="431.41" cy="217.96" r="5.3" fill="url(#gPurB)"/>
<circle cx="391.68" cy="225.42" r="5.3" fill="url(#gPurB)"/>
<circle cx="405.31" cy="224.95" r="5.3" fill="url(#gPurB)"/>
<circle cx="415.2" cy="225.71" r="5.3" fill="url(#gPurB)"/>
<circle cx="426.32" cy="225.61" r="5.3" fill="url(#gPurB)"/>
<circle cx="437.41" cy="225.99" r="5.3" fill="url(#gPurB)"/>
<circle cx="400.35" cy="235.2" r="5.3" fill="url(#gPurB)"/>
<circle cx="409.08" cy="233.95" r="5.3" fill="url(#gPurB)"/>
<circle cx="422.49" cy="234.97" r="5.3" fill="url(#gPurB)"/>
<circle cx="431.23" cy="236.07" r="5.3" fill="url(#gPurB)"/>
<circle cx="394.12" cy="244.91" r="5.3" fill="url(#gPurB)"/>
<circle cx="403.79" cy="243.66" r="5.3" fill="url(#gPurB)"/>
<circle cx="416.57" cy="243.12" r="5.3" fill="url(#gPurB)"/>
<circle cx="427.23" cy="243.03" r="5.3" fill="url(#gPurB)"/>
<circle cx="438.01" cy="244.49" r="5.3" fill="url(#gPurB)"/>
<circle cx="430.01" cy="234.16" r="2.6" fill="url(#gRed)"/>
<circle cx="412.24" cy="213.36" r="2.6" fill="url(#gRed)"/>
<circle cx="398.18" cy="224.02" r="2.6" fill="url(#gRed)"/>
<circle cx="412.49" cy="209.3" r="2.6" fill="url(#gRed)"/>
<circle cx="428.15" cy="223.34" r="2.6" fill="url(#gRed)"/>
<circle cx="420.11" cy="214.08" r="2.6" fill="url(#gRed)"/>
<circle cx="401.91" cy="207.38" r="2.6" fill="url(#gRed)"/>
<circle cx="405.86" cy="215.59" r="2.6" fill="url(#gRed)"/>
<circle cx="409.05" cy="219.14" r="2.6" fill="url(#gRed)"/>
<circle cx="425.41" cy="235.71" r="2.6" fill="url(#gRed)"/>
<circle cx="399.82" cy="219.97" r="1.3" fill="#fafafa"/>
<circle cx="399.48" cy="228.03" r="1.3" fill="#fafafa"/>
<circle cx="430.05" cy="214.09" r="1.3" fill="#fafafa"/>
<circle cx="412.1" cy="224.1" r="2.3" fill="url(#gGray)"/>
<circle cx="412.1" cy="220.9" r="1.4" fill="#f4f4f4"/>
</g>
<clipPath id="cc9"><rect x="288" y="257.5" width="41.6" height="31.9"/></clipPath>
<g clip-path="url(#cc9)">
<rect x="288" y="257.5" width="41.6" height="31.9" fill="#5e5090"/>
<circle cx="289.51" cy="258.63" r="5.3" fill="url(#gPurB)"/>
<circle cx="301.99" cy="258.32" r="5.3" fill="url(#gPurB)"/>
<circle cx="311.9" cy="260.46" r="5.3" fill="url(#gPurB)"/>
<circle cx="321.63" cy="259.63" r="5.3" fill="url(#gPurB)"/>
<circle cx="334.24" cy="258.4" r="5.3" fill="url(#gPurB)"/>
<circle cx="295.75" cy="268.38" r="5.3" fill="url(#gPurB)"/>
<circle cx="306.81" cy="267.68" r="5.3" fill="url(#gPurB)"/>
<circle cx="316.35" cy="267.57" r="5.3" fill="url(#gPurB)"/>
<circle cx="328.16" cy="269.52" r="5.3" fill="url(#gPurB)"/>
<circle cx="291.09" cy="277.22" r="5.3" fill="url(#gPurB)"/>
<circle cx="302.01" cy="276.54" r="5.3" fill="url(#gPurB)"/>
<circle cx="311.64" cy="277.92" r="5.3" fill="url(#gPurB)"/>
<circle cx="323.95" cy="277.31" r="5.3" fill="url(#gPurB)"/>
<circle cx="333.03" cy="276.94" r="5.3" fill="url(#gPurB)"/>
<circle cx="293.97" cy="287.24" r="5.3" fill="url(#gPurB)"/>
<circle cx="304.73" cy="287.43" r="5.3" fill="url(#gPurB)"/>
<circle cx="317.77" cy="285.43" r="5.3" fill="url(#gPurB)"/>
<circle cx="327.27" cy="286.48" r="5.3" fill="url(#gPurB)"/>
<circle cx="289.93" cy="271.2" r="2.6" fill="url(#gRed)"/>
<circle cx="324.89" cy="261.85" r="2.6" fill="url(#gRed)"/>
<circle cx="312.64" cy="262.12" r="2.6" fill="url(#gRed)"/>
<circle cx="311.92" cy="285.27" r="2.6" fill="url(#gRed)"/>
<circle cx="297.04" cy="258.75" r="2.6" fill="url(#gRed)"/>
<circle cx="292.31" cy="274.64" r="2.6" fill="url(#gRed)"/>
<circle cx="289.69" cy="261.04" r="2.6" fill="url(#gRed)"/>
<circle cx="308.67" cy="286.04" r="2.6" fill="url(#gRed)"/>
<circle cx="305.64" cy="270.4" r="2.6" fill="url(#gRed)"/>
<circle cx="314.29" cy="261.29" r="2.6" fill="url(#gRed)"/>
<circle cx="311.8" cy="264.31" r="1.3" fill="#fafafa"/>
<circle cx="312.89" cy="286.24" r="1.3" fill="#fafafa"/>
<circle cx="292.04" cy="274.99" r="1.3" fill="#fafafa"/>
<circle cx="304.5" cy="272.05" r="1.3" fill="#f4f4f4"/>
<circle cx="313.1" cy="272.05" r="1.3" fill="#f4f4f4"/>
<circle cx="304.5" cy="277.05" r="1.3" fill="#f4f4f4"/>
<circle cx="313.1" cy="277.05" r="1.3" fill="#f4f4f4"/>
<circle cx="306.6" cy="274.45" r="2.1" fill="url(#gGray)"/>
<circle cx="311" cy="274.45" r="2.1" fill="url(#gGray)"/>
</g>
<clipPath id="cc10"><rect x="342.1" y="267.7" width="41.1" height="31.9"/></clipPath>
<g clip-path="url(#cc10)">
<rect x="342.1" y="267.7" width="41.1" height="31.9" fill="#5e5090"/>
<circle cx="344.1" cy="269.89" r="5.3" fill="url(#gPurB)"/>
<circle cx="354.43" cy="270.45" r="5.3" fill="url(#gPurB)"/>
<circle cx="367.28" cy="270.07" r="5.3" fill="url(#gPurB)"/>
<circle cx="376.29" cy="269.75" r="5.3" fill="url(#gPurB)"/>
<circle cx="387.8" cy="269.1" r="5.3" fill="url(#gPurB)"/>
<circle cx="352.45" cy="277.61" r="5.3" fill="url(#gPurB)"/>
<circle cx="363.04" cy="278.95" r="5.3" fill="url(#gPurB)"/>
<circle cx="372.6" cy="278.18" r="5.3" fill="url(#gPurB)"/>
<circle cx="384.48" cy="278.6" r="5.3" fill="url(#gPurB)"/>
<circle cx="345.14" cy="286.82" r="5.3" fill="url(#gPurB)"/>
<circle cx="356.46" cy="288.86" r="5.3" fill="url(#gPurB)"/>
<circle cx="368.07" cy="287.97" r="5.3" fill="url(#gPurB)"/>
<circle cx="376.29" cy="286.51" r="5.3" fill="url(#gPurB)"/>
<circle cx="387.56" cy="288.76" r="5.3" fill="url(#gPurB)"/>
<circle cx="348.61" cy="297.66" r="5.3" fill="url(#gPurB)"/>
<circle cx="359.45" cy="296.82" r="5.3" fill="url(#gPurB)"/>
<circle cx="370.82" cy="295.66" r="5.3" fill="url(#gPurB)"/>
<circle cx="382.26" cy="297.53" r="5.3" fill="url(#gPurB)"/>
<circle cx="349.22" cy="275.41" r="2.6" fill="url(#gRed)"/>
<circle cx="359.24" cy="269.8" r="2.6" fill="url(#gRed)"/>
<circle cx="362.52" cy="293.16" r="2.6" fill="url(#gRed)"/>
<circle cx="368.82" cy="284.65" r="2.6" fill="url(#gRed)"/>
<circle cx="376.54" cy="273.18" r="2.6" fill="url(#gRed)"/>
<circle cx="365.28" cy="279.89" r="2.6" fill="url(#gRed)"/>
<circle cx="366.61" cy="272.08" r="2.6" fill="url(#gRed)"/>
<circle cx="373.42" cy="271.59" r="2.6" fill="url(#gRed)"/>
<circle cx="349.6" cy="292.84" r="2.6" fill="url(#gRed)"/>
<circle cx="380.15" cy="281.65" r="2.6" fill="url(#gRed)"/>
<circle cx="359.46" cy="276.55" r="1.3" fill="#fafafa"/>
<circle cx="354.29" cy="286.92" r="1.3" fill="#fafafa"/>
<circle cx="350.72" cy="273.03" r="1.3" fill="#fafafa"/>
<circle cx="358.35" cy="282.25" r="1.3" fill="#f4f4f4"/>
<circle cx="366.95" cy="282.25" r="1.3" fill="#f4f4f4"/>
<circle cx="358.35" cy="287.25" r="1.3" fill="#f4f4f4"/>
<circle cx="366.95" cy="287.25" r="1.3" fill="#f4f4f4"/>
<circle cx="360.45" cy="284.65" r="2.1" fill="url(#gGray)"/>
<circle cx="364.85" cy="284.65" r="2.1" fill="url(#gGray)"/>
</g>
<path d="M308.2,194.4 L328.3,245" fill="none" stroke="#111" stroke-width="0.9" stroke-dasharray="0.9 1.9"/>
<path d="M338.8,245 L358.7,241.6" fill="none" stroke="#111" stroke-width="0.9" stroke-dasharray="0.9 1.9"/>
<path d="M369.7,241.6 L389.8,258.3" fill="none" stroke="#111" stroke-width="0.9" stroke-dasharray="0.9 1.9"/>
<path d="M400.4,258.3 L421.2,262.5" fill="none" stroke="#111" stroke-width="0.9" stroke-dasharray="0.9 1.9"/>
<path d="M308.2,194.4 L327.8,231.5" fill="none" stroke="#ff1010" stroke-width="1.8" stroke-dasharray="2.4 6.6"/>
<path d="M338.8,231.5 L358.7,218.5" fill="none" stroke="#ff1010" stroke-width="1.8" stroke-dasharray="2.4 6.6"/>
<path d="M369.7,218.5 L389.8,306.6" fill="none" stroke="#ff1010" stroke-width="1.8" stroke-dasharray="2.4 6.6"/>
<path d="M400.4,306.6 L421.2,262.5" fill="none" stroke="#ff1010" stroke-width="1.8" stroke-dasharray="2.4 6.6"/>
<line x1="327.8" y1="231.5" x2="338.8" y2="231.5" stroke="#ff1010" stroke-width="1.8" />
<line x1="358.7" y1="218.5" x2="369.7" y2="218.5" stroke="#ff1010" stroke-width="1.8" />
<line x1="389.8" y1="306.6" x2="400.4" y2="306.6" stroke="#ff1010" stroke-width="1.8" />
<line x1="296.8" y1="194.4" x2="308.2" y2="194.4" stroke="#111" stroke-width="1.8" />
<line x1="328.3" y1="245" x2="338.8" y2="245" stroke="#111" stroke-width="1.8" />
<line x1="358.7" y1="241.6" x2="369.7" y2="241.6" stroke="#111" stroke-width="1.8" />
<line x1="389.8" y1="258.3" x2="400.4" y2="258.3" stroke="#111" stroke-width="1.8" />
<line x1="421.2" y1="262.5" x2="431.7" y2="262.5" stroke="#111" stroke-width="1.8" />
<text x="292" y="189.3" font-size="9.2" font-family="'Liberation Sans', sans-serif" fill="#1a1a1a" textLength="17.8" lengthAdjust="spacingAndGlyphs" stroke="#1a1a1a" stroke-width="0.22" >2CH<tspan baseline-shift="-28%" font-size="72%">2</tspan></text>
<text x="341.4" y="214.6" font-size="9.2" font-family="'Liberation Sans', sans-serif" fill="#1a1a1a" textLength="42" lengthAdjust="spacingAndGlyphs" stroke="#1a1a1a" stroke-width="0.22" >2*CH + 2*H</text>
<text x="319" y="254.7" font-size="9.2" font-family="'Liberation Sans', sans-serif" fill="#1a1a1a" textLength="22.3" lengthAdjust="spacingAndGlyphs" stroke="#1a1a1a" stroke-width="0.22" >2*CH<tspan baseline-shift="-28%" font-size="72%">2</tspan></text>
<text x="376.2" y="267.7" font-size="9.2" font-family="'Liberation Sans', sans-serif" fill="#1a1a1a" textLength="43.6" lengthAdjust="spacingAndGlyphs" stroke="#1a1a1a" stroke-width="0.22" >*C<tspan baseline-shift="-28%" font-size="72%">2</tspan>H<tspan baseline-shift="-28%" font-size="72%">2</tspan> + 2*H</text>
<text x="409.2" y="256.3" font-size="9.2" font-family="'Liberation Sans', sans-serif" fill="#1a1a1a" textLength="39" lengthAdjust="spacingAndGlyphs" stroke="#1a1a1a" stroke-width="0.22" >C<tspan baseline-shift="-28%" font-size="72%">2</tspan>H<tspan baseline-shift="-28%" font-size="72%">2</tspan> + 2*H</text>
<line x1="415.3" y1="246.4" x2="443.4" y2="246.4" stroke="#888" stroke-width="2" />
<circle cx="415.3" cy="246.4" r="3.2" fill="url(#gWhite)"/>
<circle cx="424.1" cy="246.4" r="3.2" fill="url(#gGray)"/>
<circle cx="434.5" cy="246.4" r="3.2" fill="url(#gGray)"/>
<circle cx="443.4" cy="246.4" r="3.2" fill="url(#gWhite)"/>
<text x="459" y="185" font-size="19.5" font-family="'Liberation Sans', sans-serif" fill="#000" font-weight="bold" >f</text>
<rect x="509.6" y="176.7" width="172.7" height="139.3" fill="none" stroke="#5a5a5a" stroke-width="0.9"/>
<line x1="507.4" y1="176.7" x2="509.6" y2="176.7" stroke="#555" stroke-width="0.9" />
<text x="505.5" y="179.6" font-size="8.2" font-family="'Liberation Sans', sans-serif" fill="#333" text-anchor="end" stroke="#333" stroke-width="0.22" >6</text>
<line x1="507.4" y1="200.9" x2="509.6" y2="200.9" stroke="#555" stroke-width="0.9" />
<text x="505.5" y="203.8" font-size="8.2" font-family="'Liberation Sans', sans-serif" fill="#333" text-anchor="end" stroke="#333" stroke-width="0.22" >4</text>
<line x1="507.4" y1="225.1" x2="509.6" y2="225.1" stroke="#555" stroke-width="0.9" />
<text x="505.5" y="228" font-size="8.2" font-family="'Liberation Sans', sans-serif" fill="#333" text-anchor="end" stroke="#333" stroke-width="0.22" >2</text>
<line x1="507.4" y1="249.3" x2="509.6" y2="249.3" stroke="#555" stroke-width="0.9" />
<text x="505.5" y="252.2" font-size="8.2" font-family="'Liberation Sans', sans-serif" fill="#333" text-anchor="end" stroke="#333" stroke-width="0.22" >0</text>
<line x1="507.4" y1="273.5" x2="509.6" y2="273.5" stroke="#555" stroke-width="0.9" />
<text x="505.5" y="276.4" font-size="8.2" font-family="'Liberation Sans', sans-serif" fill="#333" text-anchor="end" stroke="#333" stroke-width="0.22" >-2</text>
<line x1="507.4" y1="297.7" x2="509.6" y2="297.7" stroke="#555" stroke-width="0.9" />
<text x="505.5" y="300.6" font-size="8.2" font-family="'Liberation Sans', sans-serif" fill="#333" text-anchor="end" stroke="#333" stroke-width="0.22" >-4</text>
<line x1="508.3" y1="188.8" x2="509.6" y2="188.8" stroke="#555" stroke-width="0.8" />
<line x1="508.3" y1="213" x2="509.6" y2="213" stroke="#555" stroke-width="0.8" />
<line x1="508.3" y1="237.2" x2="509.6" y2="237.2" stroke="#555" stroke-width="0.8" />
<line x1="508.3" y1="261.4" x2="509.6" y2="261.4" stroke="#555" stroke-width="0.8" />
<line x1="508.3" y1="285.6" x2="509.6" y2="285.6" stroke="#555" stroke-width="0.8" />
<line x1="508.3" y1="309.8" x2="509.6" y2="309.8" stroke="#555" stroke-width="0.8" />
<text x="493.3" y="263.4" font-size="10.5" font-family="'Liberation Sans', sans-serif" fill="#111" font-weight="bold" textLength="34.1" lengthAdjust="spacingAndGlyphs" transform="rotate(-90 493.3 263.4)" >ΔG (eV)</text>
<text x="538.6" y="332" font-size="12" font-family="'Liberation Sans', sans-serif" fill="#111" font-weight="bold" textLength="114.8" lengthAdjust="spacingAndGlyphs" >Reaction coordinate</text>
<path d="M542.6,249.4 L563.6,233.8" fill="none" stroke="#ff1010" stroke-width="1.5" stroke-dasharray="1.5 6"/>
<path d="M575.5,233.8 L596,210.9" fill="none" stroke="#ff1010" stroke-width="1.5" stroke-dasharray="1.5 6"/>
<path d="M607.6,210.9 L628.4,187.2" fill="none" stroke="#ff1010" stroke-width="1.5" stroke-dasharray="1.5 6"/>
<path d="M640,187.2 L660.7,302.2" fill="none" stroke="#ff1010" stroke-width="1.5" stroke-dasharray="1.5 6"/>
<path d="M575.5,233.8 L595.9,268.2" fill="none" stroke="#1010ff" stroke-width="1.5" stroke-dasharray="1.5 6"/>
<path d="M607.6,210.9 L628.3,287.7" fill="none" stroke="#111" stroke-width="1.5" stroke-dasharray="1.5 6"/>
<line x1="531.2" y1="249.4" x2="542.6" y2="249.4" stroke="#1010ff" stroke-width="1.8" />
<line x1="563.6" y1="233.8" x2="575.5" y2="233.8" stroke="#1010ff" stroke-width="1.8" />
<line x1="595.9" y1="268.2" x2="607.5" y2="268.2" stroke="#1010ff" stroke-width="1.8" />
<line x1="596" y1="210.9" x2="607.6" y2="210.9" stroke="#ff1010" stroke-width="1.8" />
<line x1="628.4" y1="187.2" x2="640" y2="187.2" stroke="#ff1010" stroke-width="1.8" />
<line x1="660.7" y1="302.2" x2="672" y2="302.2" stroke="#ff1010" stroke-width="1.8" />
<line x1="628.3" y1="287.7" x2="639.6" y2="287.7" stroke="#111" stroke-width="1.8" />
<text x="524.7" y="245.9" font-size="8.4" font-family="'Liberation Sans', sans-serif" fill="#1a1a1a" textLength="17" lengthAdjust="spacingAndGlyphs" stroke="#1a1a1a" stroke-width="0.22" >2CH<tspan baseline-shift="-28%" font-size="72%">4</tspan></text>
<text x="542.6" y="230.7" font-size="8.4" font-family="'Liberation Sans', sans-serif" fill="#1a1a1a" textLength="37" lengthAdjust="spacingAndGlyphs" stroke="#1a1a1a" stroke-width="0.22" >2CH<tspan baseline-shift="-28%" font-size="72%">3</tspan> + 2H</text>
<text x="575" y="206.7" font-size="8.4" font-family="'Liberation Sans', sans-serif" fill="#1a1a1a" textLength="34.3" lengthAdjust="spacingAndGlyphs" stroke="#1a1a1a" stroke-width="0.22" >2CH<tspan baseline-shift="-28%" font-size="72%">2</tspan> + 4H</text>
<text x="613.5" y="185.7" font-size="8.4" font-family="'Liberation Sans', sans-serif" fill="#1a1a1a" textLength="31.7" lengthAdjust="spacingAndGlyphs" stroke="#1a1a1a" stroke-width="0.22" >2CH + 6H</text>
<text x="583.7" y="277.4" font-size="8.4" font-family="'Liberation Sans', sans-serif" fill="#1a1a1a" textLength="33.8" lengthAdjust="spacingAndGlyphs" stroke="#1a1a1a" stroke-width="0.22" >C<tspan baseline-shift="-28%" font-size="72%">2</tspan>H<tspan baseline-shift="-28%" font-size="72%">6</tspan> + 2H</text>
<text x="614.8" y="297.7" font-size="8.4" font-family="'Liberation Sans', sans-serif" fill="#1a1a1a" textLength="33.2" lengthAdjust="spacingAndGlyphs" stroke="#1a1a1a" stroke-width="0.22" >C<tspan baseline-shift="-28%" font-size="72%">2</tspan>H<tspan baseline-shift="-28%" font-size="72%">4</tspan> + 4H</text>
<text x="645.8" y="312" font-size="8.4" font-family="'Liberation Sans', sans-serif" fill="#1a1a1a" textLength="33.8" lengthAdjust="spacingAndGlyphs" stroke="#1a1a1a" stroke-width="0.22" >C<tspan baseline-shift="-28%" font-size="72%">2</tspan>H<tspan baseline-shift="-28%" font-size="72%">2</tspan> + 6H</text>
<line x1="518.4" y1="285" x2="528.9" y2="285" stroke="#111" stroke-width="1.8" />
<text x="535.1" y="287.8" font-size="7.7" font-family="'Liberation Sans', sans-serif" fill="#333" textLength="43" lengthAdjust="spacingAndGlyphs" stroke="#333" stroke-width="0.22" >Produce C<tspan baseline-shift="-28%" font-size="72%">2</tspan>H<tspan baseline-shift="-28%" font-size="72%">4</tspan></text>
<line x1="518.4" y1="296.3" x2="528.9" y2="296.3" stroke="#ff1010" stroke-width="1.8" />
<text x="535.1" y="299.1" font-size="7.7" font-family="'Liberation Sans', sans-serif" fill="#333" textLength="43" lengthAdjust="spacingAndGlyphs" stroke="#333" stroke-width="0.22" >Produce C<tspan baseline-shift="-28%" font-size="72%">2</tspan>H<tspan baseline-shift="-28%" font-size="72%">2</tspan></text>
<line x1="518.4" y1="307.9" x2="528.9" y2="307.9" stroke="#1010ff" stroke-width="1.8" />
<text x="535.1" y="310.7" font-size="7.7" font-family="'Liberation Sans', sans-serif" fill="#333" textLength="43" lengthAdjust="spacingAndGlyphs" stroke="#333" stroke-width="0.22" >Produce C<tspan baseline-shift="-28%" font-size="72%">2</tspan>H<tspan baseline-shift="-28%" font-size="72%">6</tspan></text>
<line x1="528" y1="230.5" x2="528.4" y2="221" stroke="#8a8a8a" stroke-width="1.8" />
<line x1="528" y1="230.5" x2="519.3" y2="233" stroke="#8a8a8a" stroke-width="1.8" />
<line x1="528" y1="230.5" x2="536.1" y2="233" stroke="#8a8a8a" stroke-width="1.8" />
<circle cx="528.4" cy="221" r="3.2" fill="url(#gWhite)"/>
<circle cx="528" cy="230.5" r="3.4" fill="url(#gGray)"/>
<line x1="528" y1="230.5" x2="519.3" y2="233" stroke="#8a8a8a" stroke-width="1.8" />
<circle cx="519.3" cy="233" r="3.2" fill="url(#gWhite)"/>
<line x1="528" y1="230.5" x2="536.1" y2="233" stroke="#8a8a8a" stroke-width="1.8" />
<circle cx="536.1" cy="233" r="3.2" fill="url(#gWhite)"/>
<line x1="528" y1="230.5" x2="528.7" y2="234.6" stroke="#8a8a8a" stroke-width="1.8" />
<circle cx="528.7" cy="234.6" r="3.2" fill="url(#gWhite)"/>
<line x1="557.3" y1="269.7" x2="554.2" y2="262.2" stroke="#8a8a8a" stroke-width="1.8" />
<line x1="557.3" y1="269.7" x2="552.3" y2="273.4" stroke="#8a8a8a" stroke-width="1.8" />
<line x1="557.3" y1="269.7" x2="557.9" y2="275.9" stroke="#8a8a8a" stroke-width="1.8" />
<line x1="571" y1="267.8" x2="571.6" y2="261.6" stroke="#8a8a8a" stroke-width="1.8" />
<line x1="571" y1="267.8" x2="576.5" y2="264.7" stroke="#8a8a8a" stroke-width="1.8" />
<line x1="571" y1="267.8" x2="575.9" y2="275.3" stroke="#8a8a8a" stroke-width="1.8" />
<line x1="557.3" y1="269.7" x2="571" y2="267.8" stroke="#777" stroke-width="2.2" />
<circle cx="554.2" cy="262.2" r="3.1" fill="url(#gWhite)"/>
<circle cx="571.6" cy="261.6" r="3.1" fill="url(#gWhite)"/>
<circle cx="576.5" cy="264.7" r="3.1" fill="url(#gWhite)"/>
<circle cx="557.3" cy="269.7" r="3.1" fill="url(#gGray)"/>
<circle cx="571" cy="267.8" r="3.1" fill="url(#gGray)"/>
<circle cx="552.3" cy="273.4" r="3.1" fill="url(#gWhite)"/>
<circle cx="557.9" cy="275.9" r="3.1" fill="url(#gWhite)"/>
<circle cx="575.9" cy="275.3" r="3.1" fill="url(#gWhite)"/>
<line x1="594.8" y1="302.2" x2="590.4" y2="295.4" stroke="#8a8a8a" stroke-width="1.7" />
<line x1="594.8" y1="302.2" x2="590.2" y2="308.9" stroke="#8a8a8a" stroke-width="1.7" />
<line x1="604" y1="302.2" x2="608.4" y2="295.4" stroke="#8a8a8a" stroke-width="1.7" />
<line x1="604" y1="302.2" x2="608.6" y2="308.9" stroke="#8a8a8a" stroke-width="1.7" />
<circle cx="590.4" cy="295.4" r="2.9" fill="url(#gWhite)"/>
<circle cx="590.2" cy="308.9" r="2.9" fill="url(#gWhite)"/>
<circle cx="608.4" cy="295.4" r="2.9" fill="url(#gWhite)"/>
<circle cx="608.6" cy="308.9" r="2.9" fill="url(#gWhite)"/>
<line x1="594.8" y1="302.2" x2="604" y2="302.2" stroke="#8a8a8a" stroke-width="2.4" />
<circle cx="594.8" cy="302.2" r="3" fill="url(#gGray)"/>
<circle cx="604" cy="302.2" r="3" fill="url(#gGray)"/>
<line x1="651.3" y1="287.8" x2="680.4" y2="287.8" stroke="#888" stroke-width="2" />
<circle cx="651.3" cy="287.8" r="3" fill="url(#gWhite)"/>
<circle cx="661.2" cy="287.8" r="3.3" fill="url(#gGray)"/>
<circle cx="671.2" cy="287.8" r="3.3" fill="url(#gGray)"/>
<circle cx="680.4" cy="287.8" r="3" fill="url(#gWhite)"/>
<text x="-0.3" y="368.8" font-size="23.5" font-family="'Liberation Serif', serif" fill="#000" font-weight="bold" >g</text>
<line x1="44.4" y1="423.28" x2="45.8" y2="423.28" stroke="#333" stroke-width="0.9" />
<text x="43.1" y="425.78" font-size="7.4" font-family="'Liberation Sans', sans-serif" fill="#222" text-anchor="end" stroke="#222" stroke-width="0.22" >1</text>
<line x1="44.4" y1="410.46" x2="45.8" y2="410.46" stroke="#333" stroke-width="0.9" />
<text x="43.1" y="412.96" font-size="7.4" font-family="'Liberation Sans', sans-serif" fill="#222" text-anchor="end" stroke="#222" stroke-width="0.22" >2</text>
<line x1="44.4" y1="397.64" x2="45.8" y2="397.64" stroke="#333" stroke-width="0.9" />
<text x="43.1" y="400.14" font-size="7.4" font-family="'Liberation Sans', sans-serif" fill="#222" text-anchor="end" stroke="#222" stroke-width="0.22" >3</text>
<line x1="44.4" y1="384.82" x2="45.8" y2="384.82" stroke="#333" stroke-width="0.9" />
<text x="43.1" y="387.32" font-size="7.4" font-family="'Liberation Sans', sans-serif" fill="#222" text-anchor="end" stroke="#222" stroke-width="0.22" >4</text>
<line x1="44.4" y1="372" x2="45.8" y2="372" stroke="#333" stroke-width="0.9" />
<text x="43.1" y="374.5" font-size="7.4" font-family="'Liberation Sans', sans-serif" fill="#222" text-anchor="end" stroke="#222" stroke-width="0.22" >5</text>
<line x1="47.7" y1="436.5" x2="47.7" y2="438.9" stroke="#333" stroke-width="0.9" />
<text x="47.7" y="445.8" font-size="7.4" font-family="'Liberation Sans', sans-serif" fill="#222" text-anchor="middle" stroke="#222" stroke-width="0.22" >0</text>
<line x1="67.3" y1="436.5" x2="67.3" y2="438.9" stroke="#333" stroke-width="0.9" />
<text x="67.3" y="445.8" font-size="7.4" font-family="'Liberation Sans', sans-serif" fill="#222" text-anchor="middle" stroke="#222" stroke-width="0.22" >2</text>
<line x1="86.9" y1="436.5" x2="86.9" y2="438.9" stroke="#333" stroke-width="0.9" />
<text x="86.9" y="445.8" font-size="7.4" font-family="'Liberation Sans', sans-serif" fill="#222" text-anchor="middle" stroke="#222" stroke-width="0.22" >4</text>
<line x1="106.5" y1="436.5" x2="106.5" y2="438.9" stroke="#333" stroke-width="0.9" />
<text x="106.5" y="445.8" font-size="7.4" font-family="'Liberation Sans', sans-serif" fill="#222" text-anchor="middle" stroke="#222" stroke-width="0.22" >6</text>
<line x1="126.1" y1="436.5" x2="126.1" y2="438.9" stroke="#333" stroke-width="0.9" />
<text x="126.1" y="445.8" font-size="7.4" font-family="'Liberation Sans', sans-serif" fill="#222" text-anchor="middle" stroke="#222" stroke-width="0.22" >8</text>
<line x1="145.7" y1="436.5" x2="145.7" y2="438.9" stroke="#333" stroke-width="0.9" />
<text x="145.7" y="445.8" font-size="7.4" font-family="'Liberation Sans', sans-serif" fill="#222" text-anchor="middle" stroke="#222" stroke-width="0.22" >10</text>
<line x1="178" y1="423.28" x2="179.4" y2="423.28" stroke="#333" stroke-width="0.9" />
<text x="176.7" y="425.78" font-size="7.4" font-family="'Liberation Sans', sans-serif" fill="#222" text-anchor="end" stroke="#222" stroke-width="0.22" >1</text>
<line x1="178" y1="410.46" x2="179.4" y2="410.46" stroke="#333" stroke-width="0.9" />
<text x="176.7" y="412.96" font-size="7.4" font-family="'Liberation Sans', sans-serif" fill="#222" text-anchor="end" stroke="#222" stroke-width="0.22" >2</text>
<line x1="178" y1="397.64" x2="179.4" y2="397.64" stroke="#333" stroke-width="0.9" />
<text x="176.7" y="400.14" font-size="7.4" font-family="'Liberation Sans', sans-serif" fill="#222" text-anchor="end" stroke="#222" stroke-width="0.22" >3</text>
<line x1="178" y1="384.82" x2="179.4" y2="384.82" stroke="#333" stroke-width="0.9" />
<text x="176.7" y="387.32" font-size="7.4" font-family="'Liberation Sans', sans-serif" fill="#222" text-anchor="end" stroke="#222" stroke-width="0.22" >4</text>
<line x1="178" y1="372" x2="179.4" y2="372" stroke="#333" stroke-width="0.9" />
<text x="176.7" y="374.5" font-size="7.4" font-family="'Liberation Sans', sans-serif" fill="#222" text-anchor="end" stroke="#222" stroke-width="0.22" >5</text>
<line x1="181.3" y1="436.5" x2="181.3" y2="438.9" stroke="#333" stroke-width="0.9" />
<text x="181.3" y="445.8" font-size="7.4" font-family="'Liberation Sans', sans-serif" fill="#222" text-anchor="middle" stroke="#222" stroke-width="0.22" >0</text>
<line x1="200.9" y1="436.5" x2="200.9" y2="438.9" stroke="#333" stroke-width="0.9" />
<text x="200.9" y="445.8" font-size="7.4" font-family="'Liberation Sans', sans-serif" fill="#222" text-anchor="middle" stroke="#222" stroke-width="0.22" >2</text>
<line x1="220.5" y1="436.5" x2="220.5" y2="438.9" stroke="#333" stroke-width="0.9" />
<text x="220.5" y="445.8" font-size="7.4" font-family="'Liberation Sans', sans-serif" fill="#222" text-anchor="middle" stroke="#222" stroke-width="0.22" >4</text>
<line x1="240.1" y1="436.5" x2="240.1" y2="438.9" stroke="#333" stroke-width="0.9" />
<text x="240.1" y="445.8" font-size="7.4" font-family="'Liberation Sans', sans-serif" fill="#222" text-anchor="middle" stroke="#222" stroke-width="0.22" >6</text>
<line x1="259.7" y1="436.5" x2="259.7" y2="438.9" stroke="#333" stroke-width="0.9" />
<text x="259.7" y="445.8" font-size="7.4" font-family="'Liberation Sans', sans-serif" fill="#222" text-anchor="middle" stroke="#222" stroke-width="0.22" >8</text>
<line x1="279.3" y1="436.5" x2="279.3" y2="438.9" stroke="#333" stroke-width="0.9" />
<text x="279.3" y="445.8" font-size="7.4" font-family="'Liberation Sans', sans-serif" fill="#222" text-anchor="middle" stroke="#222" stroke-width="0.22" >10</text>
<line x1="44.4" y1="517.38" x2="45.8" y2="517.38" stroke="#333" stroke-width="0.9" />
<text x="43.1" y="519.88" font-size="7.4" font-family="'Liberation Sans', sans-serif" fill="#222" text-anchor="end" stroke="#222" stroke-width="0.22" >1</text>
<line x1="44.4" y1="504.56" x2="45.8" y2="504.56" stroke="#333" stroke-width="0.9" />
<text x="43.1" y="507.06" font-size="7.4" font-family="'Liberation Sans', sans-serif" fill="#222" text-anchor="end" stroke="#222" stroke-width="0.22" >2</text>
<line x1="44.4" y1="491.74" x2="45.8" y2="491.74" stroke="#333" stroke-width="0.9" />
<text x="43.1" y="494.24" font-size="7.4" font-family="'Liberation Sans', sans-serif" fill="#222" text-anchor="end" stroke="#222" stroke-width="0.22" >3</text>
<line x1="44.4" y1="478.92" x2="45.8" y2="478.92" stroke="#333" stroke-width="0.9" />
<text x="43.1" y="481.42" font-size="7.4" font-family="'Liberation Sans', sans-serif" fill="#222" text-anchor="end" stroke="#222" stroke-width="0.22" >4</text>
<line x1="44.4" y1="466.1" x2="45.8" y2="466.1" stroke="#333" stroke-width="0.9" />
<text x="43.1" y="468.6" font-size="7.4" font-family="'Liberation Sans', sans-serif" fill="#222" text-anchor="end" stroke="#222" stroke-width="0.22" >5</text>
<line x1="47.7" y1="530.6" x2="47.7" y2="533" stroke="#333" stroke-width="0.9" />
<text x="47.7" y="539.9" font-size="7.4" font-family="'Liberation Sans', sans-serif" fill="#222" text-anchor="middle" stroke="#222" stroke-width="0.22" >0</text>
<line x1="67.3" y1="530.6" x2="67.3" y2="533" stroke="#333" stroke-width="0.9" />
<text x="67.3" y="539.9" font-size="7.4" font-family="'Liberation Sans', sans-serif" fill="#222" text-anchor="middle" stroke="#222" stroke-width="0.22" >2</text>
<line x1="86.9" y1="530.6" x2="86.9" y2="533" stroke="#333" stroke-width="0.9" />
<text x="86.9" y="539.9" font-size="7.4" font-family="'Liberation Sans', sans-serif" fill="#222" text-anchor="middle" stroke="#222" stroke-width="0.22" >4</text>
<line x1="106.5" y1="530.6" x2="106.5" y2="533" stroke="#333" stroke-width="0.9" />
<text x="106.5" y="539.9" font-size="7.4" font-family="'Liberation Sans', sans-serif" fill="#222" text-anchor="middle" stroke="#222" stroke-width="0.22" >6</text>
<line x1="126.1" y1="530.6" x2="126.1" y2="533" stroke="#333" stroke-width="0.9" />
<text x="126.1" y="539.9" font-size="7.4" font-family="'Liberation Sans', sans-serif" fill="#222" text-anchor="middle" stroke="#222" stroke-width="0.22" >8</text>
<line x1="145.7" y1="530.6" x2="145.7" y2="533" stroke="#333" stroke-width="0.9" />
<text x="145.7" y="539.9" font-size="7.4" font-family="'Liberation Sans', sans-serif" fill="#222" text-anchor="middle" stroke="#222" stroke-width="0.22" >10</text>
<line x1="179.2" y1="517.08" x2="180.6" y2="517.08" stroke="#333" stroke-width="0.9" />
<text x="177.9" y="519.58" font-size="7.4" font-family="'Liberation Sans', sans-serif" fill="#222" text-anchor="end" stroke="#222" stroke-width="0.22" >1</text>
<line x1="179.2" y1="504.26" x2="180.6" y2="504.26" stroke="#333" stroke-width="0.9" />
<text x="177.9" y="506.76" font-size="7.4" font-family="'Liberation Sans', sans-serif" fill="#222" text-anchor="end" stroke="#222" stroke-width="0.22" >2</text>
<line x1="179.2" y1="491.44" x2="180.6" y2="491.44" stroke="#333" stroke-width="0.9" />
<text x="177.9" y="493.94" font-size="7.4" font-family="'Liberation Sans', sans-serif" fill="#222" text-anchor="end" stroke="#222" stroke-width="0.22" >3</text>
<line x1="179.2" y1="478.62" x2="180.6" y2="478.62" stroke="#333" stroke-width="0.9" />
<text x="177.9" y="481.12" font-size="7.4" font-family="'Liberation Sans', sans-serif" fill="#222" text-anchor="end" stroke="#222" stroke-width="0.22" >4</text>
<line x1="179.2" y1="465.8" x2="180.6" y2="465.8" stroke="#333" stroke-width="0.9" />
<text x="177.9" y="468.3" font-size="7.4" font-family="'Liberation Sans', sans-serif" fill="#222" text-anchor="end" stroke="#222" stroke-width="0.22" >5</text>
<line x1="182.5" y1="530.3" x2="182.5" y2="532.7" stroke="#333" stroke-width="0.9" />
<text x="182.5" y="539.6" font-size="7.4" font-family="'Liberation Sans', sans-serif" fill="#222" text-anchor="middle" stroke="#222" stroke-width="0.22" >0</text>
<line x1="202.1" y1="530.3" x2="202.1" y2="532.7" stroke="#333" stroke-width="0.9" />
<text x="202.1" y="539.6" font-size="7.4" font-family="'Liberation Sans', sans-serif" fill="#222" text-anchor="middle" stroke="#222" stroke-width="0.22" >2</text>
<line x1="221.7" y1="530.3" x2="221.7" y2="532.7" stroke="#333" stroke-width="0.9" />
<text x="221.7" y="539.6" font-size="7.4" font-family="'Liberation Sans', sans-serif" fill="#222" text-anchor="middle" stroke="#222" stroke-width="0.22" >4</text>
<line x1="241.3" y1="530.3" x2="241.3" y2="532.7" stroke="#333" stroke-width="0.9" />
<text x="241.3" y="539.6" font-size="7.4" font-family="'Liberation Sans', sans-serif" fill="#222" text-anchor="middle" stroke="#222" stroke-width="0.22" >6</text>
<line x1="260.9" y1="530.3" x2="260.9" y2="532.7" stroke="#333" stroke-width="0.9" />
<text x="260.9" y="539.6" font-size="7.4" font-family="'Liberation Sans', sans-serif" fill="#222" text-anchor="middle" stroke="#222" stroke-width="0.22" >8</text>
<line x1="280.5" y1="530.3" x2="280.5" y2="532.7" stroke="#333" stroke-width="0.9" />
<text x="280.5" y="539.6" font-size="7.4" font-family="'Liberation Sans', sans-serif" fill="#222" text-anchor="middle" stroke="#222" stroke-width="0.22" >10</text>
<clipPath id="hc11"><rect x="0" y="0" width="116.4" height="73.6"/></clipPath>
<g transform="translate(47.4,361.1)">
<g clip-path="url(#hc11)">
<rect x="0" y="0" width="116.4" height="73.6" fill="#0000b0"/>
<path d="M0,40.6 C1.23,39.93 4.83,38.3 7.4,36.6 C9.97,34.9 13.03,31.95 15.4,30.4 C17.77,28.85 19.68,27.73 21.6,27.3 C23.52,26.87 25.13,26.98 26.9,27.8 C28.67,28.62 30.28,30.95 32.2,32.2 C34.12,33.45 35.73,34.33 38.4,35.3 C41.07,36.27 45.18,36.82 48.2,38 C51.22,39.18 52.87,41.73 56.5,42.4 C60.13,43.07 67.05,42.15 70,42 C72.95,41.85 73.05,42.32 74.2,41.5 C75.35,40.68 74.67,38.05 76.9,37.1 C79.13,36.15 84.35,35.8 87.6,35.8 C90.85,35.8 93.3,36.52 96.4,37.1 C99.5,37.68 102.77,38.72 106.2,39.3 C109.63,39.88 115.2,40.38 117,40.6 L117,64.6 L0,64.6 Z" fill="#0c1ce0"/>
<ellipse cx="6" cy="48" rx="16" ry="3.4" fill="#0000b0"/>
<ellipse cx="90.5" cy="47.5" rx="13" ry="2" fill="#0000b0"/>
<path d="M16.3,41.8 C16.92,41.37 18.55,39.77 20,39.2 C21.45,38.63 22.5,38.43 25,38.4 C27.5,38.37 31.67,38.65 35,39 C38.33,39.35 40.83,40 45,40.5 C49.17,41 55.08,41.37 60,42 C64.92,42.63 74.5,43.63 74.5,44.3 C74.5,44.97 64.92,45.72 60,46 C55.08,46.28 50,46.13 45,46 C40,45.87 34.05,45.5 30,45.2 C25.95,44.9 22.98,44.77 20.7,44.2 C18.42,43.63 17.03,42.2 16.3,41.8 Z" fill="#3850f0"/>
<path d="M0,52.2 L104,51.6 C109,51.8 111,53.6 112,55.2 C113,56 115,56.2 117,56.2 L117,61.2 L0,62.3 Z" fill="#3a5cf0"/>
<ellipse cx="40" cy="57.7" rx="64.5" ry="3.6" fill="#5a8af2"/>
<ellipse cx="36" cy="57.7" rx="58" ry="3.3" fill="#c8c8cc"/>
<ellipse cx="30" cy="57.6" rx="53.5" ry="3.15" fill="#f4a472"/>
<ellipse cx="34" cy="57.6" rx="44" ry="2.5" fill="#f07a3c"/>
<ellipse cx="42" cy="57.6" rx="23.5" ry="1.9" fill="#e8301a"/>
<ellipse cx="43" cy="57.6" rx="7.5" ry="0.8" fill="#b81010"/>
<path d="M83,62.3 L113,62.6" stroke="#0010a0" stroke-width="0.9"/>
</g>
<text x="5.4" y="11.3" font-size="10" font-family="'Liberation Sans', sans-serif" fill="#fff" font-weight="bold" textLength="87.5" lengthAdjust="spacingAndGlyphs" >5% Mn/m-SiO<tspan baseline-shift="-28%" font-size="72%">2</tspan>-Mn</text>
</g>
<clipPath id="hc12"><rect x="0" y="0" width="116" height="73.5"/></clipPath>
<g transform="translate(181,361.1)">
<g clip-path="url(#hc12)">
<rect x="0" y="0" width="116" height="73.5" fill="#0000b0"/>
<path d="M0,34.4 C1.3,33.73 5.25,31.58 7.8,30.4 C10.35,29.22 13.3,27.58 15.3,27.3 C17.3,27.02 18.25,27.73 19.8,28.7 C21.35,29.67 22.17,31.78 24.6,33.1 C27.03,34.42 31.28,35.78 34.4,36.6 C37.52,37.42 41.23,37.47 43.3,38 C45.37,38.53 46.22,39.5 46.8,39.8 C45,41 42.8,42 43,42.4 L45,44 L64,45.3 C66,44 68,42.8 70.2,42.4 C76,40.5 80,40.2 92,40.6 C102,41.5 110,42 117,42.9 L117,49.5 C100,49.5 88,50 83.5,50.4 L74,51.5 L70,52.6 L0,56 Z" fill="#3848d0"/>
<path d="M0,41.9 C1.3,41.4 5.03,39.6 7.8,38.9 C10.57,38.2 13.65,37.78 16.6,37.7 C19.55,37.62 23.12,37.83 25.5,38.4 C27.88,38.97 29.65,40.08 30.9,41.1 C32.15,42.12 32.15,43.35 33,44.5 C33.85,45.65 34.5,47.17 36,48 C37.5,48.83 39.67,49.17 42,49.5 C44.33,49.83 47.83,49.83 50,50 C52.17,50.17 54.17,50.42 55,50.5 L55,53.5 L0,56 Z" fill="#6080f0"/>
<path d="M18,55 L80,53.8 C95,54 110,54.3 117,54.6 L117,62.5 L0,62.6 Z" fill="#3848d0"/>
<path d="M0,49.5 C1.3,48.9 5.32,46.63 7.8,45.9 C10.28,45.17 12.83,44.87 14.9,45.1 C16.97,45.33 18.5,46.42 20.2,47.3 C21.9,48.18 24.95,49.52 25.1,50.4 C25.25,51.28 21.95,51.92 21.1,52.6 C20.25,53.28 20.35,53.77 20,54.5 C19.65,55.23 19.17,56.58 19,57 L0,57 Z" fill="#c4c4c4"/>
<path d="M32.5,54 L75,54.2" stroke="#0000b0" stroke-width="1.6"/>
<ellipse cx="50" cy="59.3" rx="54" ry="3.1" fill="#6a90f6"/>
<ellipse cx="40" cy="59.3" rx="50" ry="3.0" fill="#c6c6c6"/>
<ellipse cx="30" cy="59.2" rx="47" ry="2.7" fill="#f09a60"/>
<ellipse cx="37" cy="59.3" rx="29" ry="1.7" fill="#e05838"/>
<ellipse cx="40" cy="59.3" rx="6" ry="0.7" fill="#c03828"/>
</g>
<text x="4.5" y="11.3" font-size="10" font-family="'Liberation Sans', sans-serif" fill="#fff" font-weight="bold" textLength="103.3" lengthAdjust="spacingAndGlyphs" >1% Na<tspan baseline-shift="-28%" font-size="72%">2</tspan>WO<tspan baseline-shift="-28%" font-size="72%">4</tspan>/m-SiO<tspan baseline-shift="-28%" font-size="72%">2</tspan>-W</text>
</g>
<clipPath id="hc13"><rect x="0" y="0" width="116.4" height="73.6"/></clipPath>
<g transform="translate(47.4,455.3)">
<g clip-path="url(#hc13)">
<rect x="0" y="0" width="116.4" height="73.6" fill="#0000b0"/>
<path d="M0,40.6 C1.23,39.93 4.83,38.3 7.4,36.6 C9.97,34.9 13.03,31.95 15.4,30.4 C17.77,28.85 19.68,27.73 21.6,27.3 C23.52,26.87 25.13,26.98 26.9,27.8 C28.67,28.62 30.28,30.95 32.2,32.2 C34.12,33.45 35.73,34.33 38.4,35.3 C41.07,36.27 45.18,36.82 48.2,38 C51.22,39.18 52.87,41.73 56.5,42.4 C60.13,43.07 67.05,42.15 70,42 C72.95,41.85 73.05,42.32 74.2,41.5 C75.35,40.68 74.67,38.05 76.9,37.1 C79.13,36.15 84.35,35.8 87.6,35.8 C90.85,35.8 93.3,36.52 96.4,37.1 C99.5,37.68 102.77,38.72 106.2,39.3 C109.63,39.88 115.2,40.38 117,40.6 L117,64.6 L0,64.6 Z" fill="#0c1ce0"/>
<ellipse cx="6" cy="48" rx="16" ry="3.4" fill="#0000b0"/>
<ellipse cx="90.5" cy="47.5" rx="13" ry="2" fill="#0000b0"/>
<path d="M16.3,41.8 C16.92,41.37 18.55,39.77 20,39.2 C21.45,38.63 22.5,38.43 25,38.4 C27.5,38.37 31.67,38.65 35,39 C38.33,39.35 40.83,40 45,40.5 C49.17,41 55.08,41.37 60,42 C64.92,42.63 74.5,43.63 74.5,44.3 C74.5,44.97 64.92,45.72 60,46 C55.08,46.28 50,46.13 45,46 C40,45.87 34.05,45.5 30,45.2 C25.95,44.9 22.98,44.77 20.7,44.2 C18.42,43.63 17.03,42.2 16.3,41.8 Z" fill="#3850f0"/>
<path d="M0,52.2 L104,51.6 C109,51.8 111,53.6 112,55.2 C113,56 115,56.2 117,56.2 L117,61.2 L0,62.3 Z" fill="#3a5cf0"/>
<ellipse cx="40" cy="57.7" rx="64.5" ry="3.6" fill="#5a8af2"/>
<ellipse cx="36" cy="57.7" rx="58" ry="3.3" fill="#c8c8cc"/>
<ellipse cx="30" cy="57.6" rx="53.5" ry="3.15" fill="#f4a472"/>
<ellipse cx="34" cy="57.6" rx="44" ry="2.5" fill="#f07a3c"/>
<ellipse cx="42" cy="57.6" rx="23.5" ry="1.9" fill="#e8301a"/>
<ellipse cx="43" cy="57.6" rx="7.5" ry="0.8" fill="#b81010"/>
<path d="M83,62.3 L113,62.6" stroke="#0010a0" stroke-width="0.9"/>
</g>
<text x="5.4" y="13.5" font-size="10" font-family="'Liberation Sans', sans-serif" fill="#fff" font-weight="bold" textLength="82" lengthAdjust="spacingAndGlyphs" >WMO/m-SiO<tspan baseline-shift="-28%" font-size="72%">2</tspan>-Mn</text>
</g>
<clipPath id="hc14"><rect x="0" y="0" width="116" height="73.5"/></clipPath>
<g transform="translate(182.2,455.1)">
<g clip-path="url(#hc14)">
<rect x="0" y="0" width="116" height="73.5" fill="#0000b0"/>
<path d="M0,34.4 C1.3,33.73 5.25,31.58 7.8,30.4 C10.35,29.22 13.3,27.58 15.3,27.3 C17.3,27.02 18.25,27.73 19.8,28.7 C21.35,29.67 22.17,31.78 24.6,33.1 C27.03,34.42 31.28,35.78 34.4,36.6 C37.52,37.42 41.23,37.47 43.3,38 C45.37,38.53 46.22,39.5 46.8,39.8 C45,41 42.8,42 43,42.4 L45,44 L64,45.3 C66,44 68,42.8 70.2,42.4 C76,40.5 80,40.2 92,40.6 C102,41.5 110,42 117,42.9 L117,49.5 C100,49.5 88,50 83.5,50.4 L74,51.5 L70,52.6 L0,56 Z" fill="#3848d0"/>
<path d="M0,41.9 C1.3,41.4 5.03,39.6 7.8,38.9 C10.57,38.2 13.65,37.78 16.6,37.7 C19.55,37.62 23.12,37.83 25.5,38.4 C27.88,38.97 29.65,40.08 30.9,41.1 C32.15,42.12 32.15,43.35 33,44.5 C33.85,45.65 34.5,47.17 36,48 C37.5,48.83 39.67,49.17 42,49.5 C44.33,49.83 47.83,49.83 50,50 C52.17,50.17 54.17,50.42 55,50.5 L55,53.5 L0,56 Z" fill="#6080f0"/>
<path d="M18,55 L80,53.8 C95,54 110,54.3 117,54.6 L117,62.5 L0,62.6 Z" fill="#3848d0"/>
<path d="M0,49.5 C1.3,48.9 5.32,46.63 7.8,45.9 C10.28,45.17 12.83,44.87 14.9,45.1 C16.97,45.33 18.5,46.42 20.2,47.3 C21.9,48.18 24.95,49.52 25.1,50.4 C25.25,51.28 21.95,51.92 21.1,52.6 C20.25,53.28 20.35,53.77 20,54.5 C19.65,55.23 19.17,56.58 19,57 L0,57 Z" fill="#c4c4c4"/>
<path d="M32.5,54 L75,54.2" stroke="#0000b0" stroke-width="1.6"/>
<ellipse cx="50" cy="59.3" rx="54" ry="3.1" fill="#6a90f6"/>
<ellipse cx="40" cy="59.3" rx="50" ry="3.0" fill="#c6c6c6"/>
<ellipse cx="30" cy="59.2" rx="47" ry="2.7" fill="#f09a60"/>
<ellipse cx="37" cy="59.3" rx="29" ry="1.7" fill="#e05838"/>
<ellipse cx="40" cy="59.3" rx="6" ry="0.7" fill="#c03828"/>
</g>
<text x="4.5" y="13.5" font-size="10" font-family="'Liberation Sans', sans-serif" fill="#fff" font-weight="bold" textLength="76.7" lengthAdjust="spacingAndGlyphs" >WMO/m-SiO<tspan baseline-shift="-28%" font-size="72%">2</tspan>-W</text>
</g>
<text x="84.2" y="411.8" font-size="8" font-family="'Liberation Sans', sans-serif" fill="#e8ecff" font-weight="bold" textLength="20.4" lengthAdjust="spacingAndGlyphs" >Mn-O</text>
<text x="214" y="411.6" font-size="8" font-family="'Liberation Sans', sans-serif" fill="#e8ecff" font-weight="bold" textLength="16.8" lengthAdjust="spacingAndGlyphs" >W-O</text>
<text x="87.8" y="506.8" font-size="8" font-family="'Liberation Sans', sans-serif" fill="#e8ecff" font-weight="bold" textLength="20.2" lengthAdjust="spacingAndGlyphs" >Mn-O</text>
<text x="215.7" y="507.8" font-size="8" font-family="'Liberation Sans', sans-serif" fill="#e8ecff" font-weight="bold" textLength="16.7" lengthAdjust="spacingAndGlyphs" >W-O</text>
<text x="29.2" y="474.9" font-size="13" font-family="'Liberation Sans', sans-serif" fill="#111" font-weight="bold" textLength="32" lengthAdjust="spacingAndGlyphs" transform="rotate(-90 29.2 474.9)" >R (Å)</text>
<text x="149.8" y="561.5" font-size="13" font-family="'Liberation Sans', sans-serif" fill="#111" font-weight="bold" textLength="31" lengthAdjust="spacingAndGlyphs" >K (Å</text>
<text x="182.5" y="556.5" font-size="8" font-family="'Liberation Sans', sans-serif" fill="#111" font-weight="bold" >-1</text>
<text x="189.5" y="561.5" font-size="13" font-family="'Liberation Sans', sans-serif" fill="#111" font-weight="bold" >)</text>
<text x="305.3" y="368.4" font-size="22.5" font-family="'Liberation Sans', sans-serif" fill="#000" font-weight="bold" >h</text>
<radialGradient id="gCloud" gradientUnits="userSpaceOnUse" cx="379" cy="380" r="46" gradientTransform="translate(379 380) scale(1 0.42) translate(-379 -380)">
<stop offset="0" stop-color="#000004"/><stop offset="0.45" stop-color="#031a3c"/><stop offset="0.75" stop-color="#0a4a96"/><stop offset="1" stop-color="#1a6cc0"/></radialGradient>
<linearGradient id="gBeamL" x1="365" y1="0" x2="453" y2="0" gradientUnits="userSpaceOnUse"><stop offset="0" stop-color="#ffffff" stop-opacity="0"/><stop offset="0.25" stop-color="#c4d8f2"/><stop offset="0.6" stop-color="#5a8ed6"/><stop offset="0.85" stop-color="#3a70c8"/><stop offset="1" stop-color="#5a90d8"/></linearGradient>
<linearGradient id="gBeamR" x1="598" y1="0" x2="685" y2="0" gradientUnits="userSpaceOnUse"><stop offset="0" stop-color="#ffffff" stop-opacity="0.2"/><stop offset="0.3" stop-color="#90b4ea"/><stop offset="0.7" stop-color="#3a70c8"/><stop offset="1" stop-color="#6a9ae0"/></linearGradient>
<radialGradient id="gGlow" gradientUnits="userSpaceOnUse" cx="526" cy="438" r="86"><stop offset="0.82" stop-color="#8cb2f2"/><stop offset="0.88" stop-color="#aac6f6"/><stop offset="0.94" stop-color="#d2e2fa"/><stop offset="1" stop-color="#ffffff" stop-opacity="0"/></radialGradient>
<radialGradient id="gSph" gradientUnits="userSpaceOnUse" cx="500" cy="415" r="100"><stop offset="0" stop-color="#eee27a"/><stop offset="0.5" stop-color="#e0d05c"/><stop offset="0.8" stop-color="#d6c550"/><stop offset="1" stop-color="#baa83e"/></radialGradient>
<radialGradient id="gCav" gradientUnits="userSpaceOnUse" cx="530" cy="440" r="62"><stop offset="0" stop-color="#e8e088"/><stop offset="0.45" stop-color="#d6ca64"/><stop offset="0.78" stop-color="#ae9e44"/><stop offset="1" stop-color="#86782e"/></radialGradient>
<radialGradient id="gShadow" gradientUnits="userSpaceOnUse" cx="542" cy="530" r="95" gradientTransform="translate(542 530) scale(1 0.2) translate(-542 -530)"><stop offset="0" stop-color="#b4b4b4"/><stop offset="0.6" stop-color="#d4d4d4"/><stop offset="1" stop-color="#ffffff" stop-opacity="0"/></radialGradient>
<linearGradient id="gDome" x1="0" y1="0" x2="0" y2="1"><stop offset="0" stop-color="#ffffff"/><stop offset="0.7" stop-color="#f0f0f0"/><stop offset="1" stop-color="#c8c8c8"/></linearGradient>
<radialGradient id="gBlob" cx="40%" cy="35%" r="65%"><stop offset="0" stop-color="#d0d0d0"/><stop offset="0.25" stop-color="#505050"/><stop offset="0.7" stop-color="#151515"/><stop offset="1" stop-color="#000"/></radialGradient>
<radialGradient id="gYH" cx="40%" cy="35%" r="65%"><stop offset="0" stop-color="#ffffe0"/><stop offset="0.5" stop-color="#f0ec78"/><stop offset="1" stop-color="#b8b030"/></radialGradient>
<radialGradient id="gCG" cx="40%" cy="35%" r="65%"><stop offset="0" stop-color="#f0f0f0"/><stop offset="0.5" stop-color="#a0a0a0"/><stop offset="1" stop-color="#585858"/></radialGradient>
<filter id="blur1" x="-50%" y="-50%" width="200%" height="200%"><feGaussianBlur stdDeviation="1.6"/></filter>
<filter id="blur2" x="-50%" y="-50%" width="200%" height="200%"><feGaussianBlur stdDeviation="3"/></filter>

<ellipse cx="542" cy="531" rx="95" ry="19" fill="url(#gShadow)"/>
<path d="M365,404 C395,411 425,419 453,426.5 L453,428 C425,432 392,438 366,450.5 C368,436 368,418 365,404 Z" fill="url(#gBeamL)"/>
<path d="M596,406 C620,412 650,420 685,428.7 C650,436 620,445 596,453 Z" fill="url(#gBeamR)"/>
<circle cx="526" cy="438" r="86" fill="url(#gGlow)"/>
<circle cx="526" cy="438" r="72" fill="url(#gSph)" stroke="#8a7c30" stroke-width="0.5"/>
<ellipse cx="468.5" cy="402.6" rx="2.12" ry="4" fill="#c2b24a" stroke="#2e2a0c" stroke-width="0.7" transform="rotate(20 468.5 402.6)"/>
<ellipse cx="461.4" cy="428.2" rx="2.12" ry="4.12" fill="#c2b24a" stroke="#2e2a0c" stroke-width="0.7" transform="rotate(5 461.4 428.2)"/>
<ellipse cx="462.8" cy="458" rx="2.25" ry="3.88" fill="#c2b24a" stroke="#2e2a0c" stroke-width="0.7" transform="rotate(-10 462.8 458)"/>
<ellipse cx="471.3" cy="473.7" rx="3.12" ry="2.38" fill="#c2b24a" stroke="#2e2a0c" stroke-width="0.7" transform="rotate(0 471.3 473.7)"/>
<ellipse cx="479.8" cy="482.2" rx="3.62" ry="2.5" fill="#c2b24a" stroke="#2e2a0c" stroke-width="0.7" transform="rotate(0 479.8 482.2)"/>
<ellipse cx="487" cy="496.4" rx="3.38" ry="2.12" fill="#c2b24a" stroke="#2e2a0c" stroke-width="0.7" transform="rotate(0 487 496.4)"/>
<ellipse cx="498.3" cy="485" rx="3.62" ry="2.38" fill="#c2b24a" stroke="#2e2a0c" stroke-width="0.7" transform="rotate(0 498.3 485)"/>
<ellipse cx="509.7" cy="493.6" rx="4.38" ry="2.62" fill="#c2b24a" stroke="#2e2a0c" stroke-width="0.7" transform="rotate(0 509.7 493.6)"/>
<ellipse cx="516.8" cy="505" rx="3.62" ry="2" fill="#c2b24a" stroke="#2e2a0c" stroke-width="0.7" transform="rotate(0 516.8 505)"/>
<ellipse cx="525.3" cy="489.3" rx="3.88" ry="2.62" fill="#c2b24a" stroke="#2e2a0c" stroke-width="0.7" transform="rotate(0 525.3 489.3)"/>
<ellipse cx="540.9" cy="490.7" rx="4.5" ry="3" fill="#c2b24a" stroke="#2e2a0c" stroke-width="0.7" transform="rotate(0 540.9 490.7)"/>
<ellipse cx="555.1" cy="499.2" rx="3.88" ry="2.38" fill="#c2b24a" stroke="#2e2a0c" stroke-width="0.7" transform="rotate(0 555.1 499.2)"/>
<ellipse cx="572.2" cy="482.2" rx="4.12" ry="2.62" fill="#c2b24a" stroke="#2e2a0c" stroke-width="0.7" transform="rotate(-20 572.2 482.2)"/>
<ellipse cx="585" cy="469.4" rx="3.62" ry="2.38" fill="#c2b24a" stroke="#2e2a0c" stroke-width="0.7" transform="rotate(-30 585 469.4)"/>
<ellipse cx="548" cy="505.5" rx="3.12" ry="1.75" fill="#c2b24a" stroke="#2e2a0c" stroke-width="0.7" transform="rotate(0 548 505.5)"/>
<ellipse cx="533" cy="505" rx="2.62" ry="1.62" fill="#c2b24a" stroke="#2e2a0c" stroke-width="0.7" transform="rotate(0 533 505)"/>
<ellipse cx="500" cy="505" rx="2.62" ry="1.62" fill="#c2b24a" stroke="#2e2a0c" stroke-width="0.7" transform="rotate(0 500 505)"/>
<path d="M499.3,371.8 A72,72 0 0 1 597.5,446 C594,452 588,456 580,459 L544.3,470 L475.9,463.7 C476.5,450 477.2,440 477.8,436.3 C479,426 480.5,420 481.7,414.8 C484,405 486,398 488.6,391.3 C492,384 495,378 499.3,371.8 Z" fill="#a29238" stroke="#3a3410" stroke-width="0.6"/>
<path d="M499.3,371.8 A72,72 0 0 1 597.5,446 L589,442 C586,420 580,405 570,395 C560,388 545,381 530,381 C522,381 514,384 507.2,388.4 C504,384 502,377 499.3,371.8 Z" fill="#d2c464" stroke="#3a3410" stroke-width="0.6"/>
<line x1="521" y1="367" x2="527" y2="381.2" stroke="#3a3410" stroke-width="0.6" />
<line x1="557" y1="374.5" x2="551" y2="386.5" stroke="#3a3410" stroke-width="0.6" />
<line x1="584" y1="392" x2="572" y2="398" stroke="#3a3410" stroke-width="0.6" />
<line x1="596" y1="424" x2="587.5" y2="427" stroke="#3a3410" stroke-width="0.6" />
<path d="M491.5,454 L589,442 L597.5,446 C594,452 588,456 580,459 L544.3,470 L475.9,463.7 Z" fill="#958636" stroke="#3a3410" stroke-width="0.6"/>
<path d="M475.9,463.7 L544.3,470 L580,459 L581,463 L545,475 L476.5,468.5 Z" fill="#86782c" stroke="#3a3410" stroke-width="0.5"/>
<line x1="544.3" y1="470" x2="545" y2="475" stroke="#3a3410" stroke-width="0.6" />
<line x1="544.3" y1="470" x2="540" y2="456" stroke="#3a3410" stroke-width="0.5" />
<path d="M507.2,388.4 C514,384 522,381 530,381 C545,381 560,388 570,395 C580,405 586,420 589,442 L491.5,454 C490,440 492,425 497.4,407 C500,398 504,392 507.2,388.4 Z" fill="url(#gCav)" stroke="#3a3410" stroke-width="0.6"/>
<circle cx="504" cy="376" r="1.4" fill="#fff"/>
<circle cx="512" cy="372" r="1.4" fill="#fff"/>
<circle cx="518" cy="370" r="1.4" fill="#fff"/>
<circle cx="536" cy="372" r="1.4" fill="#fff"/>
<circle cx="546" cy="373" r="1.4" fill="#fff"/>
<circle cx="563" cy="379" r="1.4" fill="#fff"/>
<circle cx="575" cy="388" r="1.4" fill="#fff"/>
<circle cx="585" cy="398" r="1.4" fill="#fff"/>
<circle cx="590" cy="409" r="1.4" fill="#fff"/>
<circle cx="594" cy="420" r="1.4" fill="#fff"/>
<circle cx="592" cy="433" r="1.4" fill="#fff"/>
<circle cx="596" cy="440" r="1.4" fill="#fff"/>
<circle cx="483" cy="452" r="1.4" fill="#fff"/>
<circle cx="482" cy="440" r="1.4" fill="#fff"/>
<circle cx="485" cy="426" r="1.4" fill="#fff"/>
<circle cx="487" cy="414" r="1.4" fill="#fff"/>
<circle cx="491" cy="402" r="1.4" fill="#fff"/>
<circle cx="496" cy="392" r="1.4" fill="#fff"/>
<circle cx="501" cy="386" r="1.4" fill="#fff"/>
<circle cx="497" cy="460" r="1.4" fill="#fff"/>
<circle cx="508" cy="462" r="1.4" fill="#fff"/>
<circle cx="520" cy="462" r="1.4" fill="#fff"/>
<circle cx="533" cy="462" r="1.4" fill="#fff"/>
<circle cx="546" cy="459" r="1.4" fill="#fff"/>
<circle cx="558" cy="456" r="1.4" fill="#fff"/>
<circle cx="570" cy="454" r="1.4" fill="#fff"/>
<circle cx="580" cy="450" r="1.4" fill="#fff"/>
<circle cx="590" cy="447" r="1.4" fill="#fff"/>
<circle cx="540" cy="467" r="1.4" fill="#fff"/>
<circle cx="526" cy="467" r="1.4" fill="#fff"/>
<circle cx="512" cy="466" r="1.4" fill="#fff"/>
<circle cx="563" cy="462" r="1.4" fill="#fff"/>
<circle cx="488" cy="459" r="1.4" fill="#fff"/>
<ellipse cx="525" cy="388" rx="1.5" ry="1.15" fill="#8e8034" stroke="#fff8c8" stroke-width="0.7"/>
<ellipse cx="534" cy="386" rx="1.5" ry="1.15" fill="#8e8034" stroke="#fff8c8" stroke-width="0.7"/>
<ellipse cx="545" cy="390" rx="1.5" ry="1.15" fill="#8e8034" stroke="#fff8c8" stroke-width="0.7"/>
<ellipse cx="556" cy="394" rx="1.5" ry="1.15" fill="#8e8034" stroke="#fff8c8" stroke-width="0.7"/>
<ellipse cx="566" cy="403" rx="1.5" ry="1.15" fill="#8e8034" stroke="#fff8c8" stroke-width="0.7"/>
<ellipse cx="571" cy="414" rx="1.5" ry="1.15" fill="#8e8034" stroke="#fff8c8" stroke-width="0.7"/>
<ellipse cx="575" cy="427" rx="1.5" ry="1.15" fill="#8e8034" stroke="#fff8c8" stroke-width="0.7"/>
<ellipse cx="503" cy="420" rx="1.5" ry="1.15" fill="#8e8034" stroke="#fff8c8" stroke-width="0.7"/>
<ellipse cx="506" cy="440" rx="1.5" ry="1.15" fill="#8e8034" stroke="#fff8c8" stroke-width="0.7"/>
<ellipse cx="516" cy="450" rx="1.5" ry="1.15" fill="#8e8034" stroke="#fff8c8" stroke-width="0.7"/>
<ellipse cx="528" cy="436" rx="1.5" ry="1.15" fill="#8e8034" stroke="#fff8c8" stroke-width="0.7"/>
<ellipse cx="542" cy="432" rx="1.5" ry="1.15" fill="#8e8034" stroke="#fff8c8" stroke-width="0.7"/>
<ellipse cx="550" cy="426" rx="1.5" ry="1.15" fill="#8e8034" stroke="#fff8c8" stroke-width="0.7"/>
<ellipse cx="560" cy="440" rx="1.5" ry="1.15" fill="#8e8034" stroke="#fff8c8" stroke-width="0.7"/>
<ellipse cx="568" cy="432" rx="1.5" ry="1.15" fill="#8e8034" stroke="#fff8c8" stroke-width="0.7"/>
<ellipse cx="548" cy="412" rx="1.5" ry="1.15" fill="#8e8034" stroke="#fff8c8" stroke-width="0.7"/>
<ellipse cx="530" cy="405" rx="1.5" ry="1.15" fill="#8e8034" stroke="#fff8c8" stroke-width="0.7"/>
<ellipse cx="519" cy="398" rx="1.5" ry="1.15" fill="#8e8034" stroke="#fff8c8" stroke-width="0.7"/>
<ellipse cx="512" cy="410" rx="1.5" ry="1.15" fill="#8e8034" stroke="#fff8c8" stroke-width="0.7"/>
<ellipse cx="520" cy="428" rx="1.5" ry="1.15" fill="#8e8034" stroke="#fff8c8" stroke-width="0.7"/>
<ellipse cx="558" cy="420" rx="1.5" ry="1.15" fill="#8e8034" stroke="#fff8c8" stroke-width="0.7"/>
<ellipse cx="577" cy="440" rx="1.5" ry="1.15" fill="#8e8034" stroke="#fff8c8" stroke-width="0.7"/>
<line x1="506" y1="390" x2="520" y2="415" stroke="#2a98e0" stroke-width="7" stroke-linecap="round" opacity="0.9" filter="url(#blur1)"/>
<line x1="506" y1="390" x2="520" y2="415" stroke="#58b4e8" stroke-width="3.8" stroke-linecap="round"/>
<line x1="506" y1="390" x2="520" y2="415" stroke="#f4b010" stroke-width="1.9" stroke-linecap="round"/>
<line x1="541.5" y1="397" x2="538.5" y2="421" stroke="#2a98e0" stroke-width="7" stroke-linecap="round" opacity="0.9" filter="url(#blur1)"/>
<line x1="541.5" y1="397" x2="538.5" y2="421" stroke="#58b4e8" stroke-width="3.8" stroke-linecap="round"/>
<line x1="541.5" y1="397" x2="538.5" y2="421" stroke="#f4b010" stroke-width="1.9" stroke-linecap="round"/>
<line x1="560" y1="398" x2="554" y2="412" stroke="#2a98e0" stroke-width="7" stroke-linecap="round" opacity="0.9" filter="url(#blur1)"/>
<line x1="560" y1="398" x2="554" y2="412" stroke="#58b4e8" stroke-width="3.8" stroke-linecap="round"/>
<line x1="560" y1="398" x2="554" y2="412" stroke="#f4b010" stroke-width="1.9" stroke-linecap="round"/>
<line x1="494.5" y1="443" x2="516" y2="445.5" stroke="#2a98e0" stroke-width="7" stroke-linecap="round" opacity="0.9" filter="url(#blur1)"/>
<line x1="494.5" y1="443" x2="516" y2="445.5" stroke="#58b4e8" stroke-width="3.8" stroke-linecap="round"/>
<line x1="494.5" y1="443" x2="516" y2="445.5" stroke="#f4b010" stroke-width="1.9" stroke-linecap="round"/>
<line x1="502.5" y1="416" x2="511" y2="427" stroke="#2a98e0" stroke-width="7" stroke-linecap="round" opacity="0.9" filter="url(#blur1)"/>
<line x1="502.5" y1="416" x2="511" y2="427" stroke="#58b4e8" stroke-width="3.8" stroke-linecap="round"/>
<line x1="502.5" y1="416" x2="511" y2="427" stroke="#f4b010" stroke-width="1.9" stroke-linecap="round"/>
<circle cx="525.3" cy="414.2" r="1.7" fill="url(#gYH)"/>
<circle cx="517.3" cy="421.2" r="1.7" fill="url(#gYH)"/>
<circle cx="523.8" cy="421.5" r="1.7" fill="url(#gYH)"/>
<circle cx="526.3" cy="418.7" r="1.7" fill="url(#gYH)"/>
<circle cx="520.8" cy="416.7" r="3.2" fill="url(#gCG)"/>
<circle cx="542.9" cy="421.1" r="1.7" fill="url(#gYH)"/>
<circle cx="534.9" cy="428.1" r="1.7" fill="url(#gYH)"/>
<circle cx="541.4" cy="428.4" r="1.7" fill="url(#gYH)"/>
<circle cx="543.9" cy="425.6" r="1.7" fill="url(#gYH)"/>
<circle cx="538.4" cy="423.6" r="3.2" fill="url(#gCG)"/>
<circle cx="558.5" cy="411.3" r="1.7" fill="url(#gYH)"/>
<circle cx="550.5" cy="418.3" r="1.7" fill="url(#gYH)"/>
<circle cx="557" cy="418.6" r="1.7" fill="url(#gYH)"/>
<circle cx="559.5" cy="415.8" r="1.7" fill="url(#gYH)"/>
<circle cx="554" cy="413.8" r="3.2" fill="url(#gCG)"/>
<circle cx="516.5" cy="426" r="1.7" fill="url(#gYH)"/>
<circle cx="508.5" cy="433" r="1.7" fill="url(#gYH)"/>
<circle cx="515" cy="433.3" r="1.7" fill="url(#gYH)"/>
<circle cx="517.5" cy="430.5" r="1.7" fill="url(#gYH)"/>
<circle cx="512" cy="428.5" r="2.4" fill="url(#gCG)"/>
<path d="M520.5,459 C519,449 526,443.5 535,443.5 C545,443.5 550.5,450 549.5,457 C547,461 540,461.5 536,459 C531,461 524,461.5 520.5,459 Z" fill="url(#gBlob)"/>
<path d="M447,385 C470,390 492,400 506,418" fill="none" stroke="#ff5a60" stroke-width="6" opacity="0.7" filter="url(#blur1)"/>
<path d="M478,393 C490,398 500,407 506,418" fill="none" stroke="#e06a18" stroke-width="6" opacity="0.75" filter="url(#blur1)"/>
<path d="M449.5,385 C470,389 494,398 505,416" fill="none" stroke="#0c2070" stroke-width="2.8"/>
<path d="M500.5,416.5 L509.5,423 L508.3,412 Z" fill="#0c2070"/>
<path d="M530,441 C548,433 566,424 583,417" fill="none" stroke="#68d818" stroke-width="7" opacity="0.75" filter="url(#blur2)"/>
<path d="M530.6,441.2 C548,433 564,426 579,419.5" fill="none" stroke="#0c2070" stroke-width="2"/>
<path d="M577,415.5 L585,417 L580.5,423.5 Z" fill="#0c2070"/>
<path id="chp" d="M444.5,377 C462,379 485,388 507,407" fill="none"/>
<text font-family="'Liberation Serif', serif" font-weight="bold" font-size="13.8" fill="#000"><textPath href="#chp">C-H break</textPath></text>
<path id="cpp" d="M540.5,451 C558,441 576,431 596,419" fill="none"/>
<text font-family="'Liberation Serif', serif" font-weight="bold" font-size="13.2" fill="#000"><textPath href="#cpp">Coupling</textPath></text>
<g fill="url(#gCloud)">
<ellipse cx="378" cy="378.5" rx="40" ry="10"/>
<ellipse cx="344" cy="379" rx="8" ry="7"/>
<ellipse cx="356" cy="373" rx="10" ry="7"/>
<ellipse cx="370" cy="371" rx="11" ry="6.5"/>
<ellipse cx="385" cy="371" rx="11" ry="6.5"/>
<ellipse cx="399" cy="372" rx="11" ry="6.5"/>
<ellipse cx="412" cy="376" rx="10" ry="7"/>
<ellipse cx="418" cy="381" rx="5" ry="5"/>
<ellipse cx="350" cy="385.5" rx="10" ry="5.5"/>
<ellipse cx="366" cy="387.5" rx="11" ry="4.5"/>
<ellipse cx="382" cy="387.5" rx="11" ry="4.5"/>
<ellipse cx="398" cy="387" rx="11" ry="4.5"/>
<ellipse cx="410" cy="385" rx="8" ry="5"/>
<circle cx="414" cy="386.3" r="2.4"/>
</g>
<text x="358.5" y="382.9" font-size="12.5" font-family="'Liberation Serif', serif" fill="#fff" font-weight="bold" textLength="36" lengthAdjust="spacingAndGlyphs" >Plasma</text>
<path d="M359.2,388.5 l-5.4,7.6 l3.6,-0.7 l-5.6,9 l9.4,-10.6 l-3.6,0.6 l4.6,-5.9 Z" fill="#f8f030" stroke="#1a50b0" stroke-width="0.8" stroke-linejoin="round"/>
<path d="M383.3,389.9 l-5.4,7.6 l3.6,-0.7 l-5.6,9 l9.4,-10.6 l-3.6,0.6 l4.6,-5.9 Z" fill="#f8f030" stroke="#1a50b0" stroke-width="0.8" stroke-linejoin="round"/>
<path d="M407.4,385.5 l-5.4,7.6 l3.6,-0.7 l-5.6,9 l9.4,-10.6 l-3.6,0.6 l4.6,-5.9 Z" fill="#f8f030" stroke="#1a50b0" stroke-width="0.8" stroke-linejoin="round"/>
<line x1="354.9" y1="422.9" x2="353.7" y2="407.7" stroke="#e8e070" stroke-width="2.6" />
<line x1="354.9" y1="422.9" x2="338.5" y2="425.3" stroke="#e8e070" stroke-width="2.6" />
<line x1="354.9" y1="422.9" x2="357.2" y2="433.4" stroke="#e8e070" stroke-width="2.6" />
<line x1="354.9" y1="422.9" x2="365.4" y2="424.1" stroke="#e8e070" stroke-width="2.6" />
<circle cx="353.7" cy="407.7" r="3.6" fill="url(#gYH)"/>
<circle cx="354.9" cy="422.9" r="6.5" fill="url(#gCG)"/>
<circle cx="338.5" cy="425.3" r="3.6" fill="url(#gYH)"/>
<circle cx="357.2" cy="433.4" r="3.6" fill="url(#gYH)"/>
<circle cx="365.4" cy="424.1" r="3.6" fill="url(#gYH)"/>
<line x1="378.3" y1="408.9" x2="369.5" y2="403.5" stroke="#e8e070" stroke-width="2.4" />
<line x1="378.3" y1="408.9" x2="391.1" y2="398.4" stroke="#e8e070" stroke-width="2.6" />
<line x1="378.3" y1="408.9" x2="372.4" y2="417.1" stroke="#e8e070" stroke-width="2.6" />
<line x1="378.3" y1="408.9" x2="385.3" y2="417.1" stroke="#e8e070" stroke-width="2.6" />
<circle cx="391.1" cy="398.4" r="3.6" fill="url(#gYH)"/>
<circle cx="378.3" cy="408.9" r="6.3" fill="url(#gCG)"/>
<circle cx="372.4" cy="417.1" r="3.6" fill="url(#gYH)"/>
<circle cx="385.3" cy="417.1" r="3.6" fill="url(#gYH)"/>
<line x1="414.5" y1="431.1" x2="415.6" y2="414.7" stroke="#e8e070" stroke-width="2.6" />
<line x1="414.5" y1="431.1" x2="400.4" y2="432.3" stroke="#e8e070" stroke-width="2.6" />
<line x1="414.5" y1="431.1" x2="423.8" y2="431.1" stroke="#e8e070" stroke-width="2.6" />
<line x1="414.5" y1="431.1" x2="418" y2="440.4" stroke="#e8e070" stroke-width="2.6" />
<circle cx="415.6" cy="414.7" r="3.6" fill="url(#gYH)"/>
<circle cx="414.5" cy="431.1" r="6.3" fill="url(#gCG)"/>
<circle cx="400.4" cy="432.3" r="3.6" fill="url(#gYH)"/>
<circle cx="423.8" cy="431.1" r="3.6" fill="url(#gYH)"/>
<circle cx="418" cy="440.4" r="3.6" fill="url(#gYH)"/>
<polygon points="345.5,414.3 343.31,415.08 344.62,417 342.39,416.35 342.32,418.67 340.9,416.83 339.48,418.67 339.41,416.35 337.18,417 338.49,415.08 336.3,414.3 338.49,413.52 337.18,411.6 339.41,412.25 339.48,409.93 340.9,411.77 342.32,409.93 342.39,412.25 344.62,411.6 343.31,413.52" fill="#0a2a80"/>
<circle cx="340.9" cy="414.3" r="1.4" fill="#f0e040"/>
<polygon points="383.6,422.2 381.41,422.98 382.72,424.9 380.49,424.25 380.42,426.57 379,424.73 377.58,426.57 377.51,424.25 375.28,424.9 376.59,422.98 374.4,422.2 376.59,421.42 375.28,419.5 377.51,420.15 377.58,417.83 379,419.67 380.42,417.83 380.49,420.15 382.72,419.5 381.41,421.42" fill="#0a2a80"/>
<circle cx="379" cy="422.2" r="1.4" fill="#f0e040"/>
<polygon points="409.7,419.9 407.51,420.68 408.82,422.6 406.59,421.95 406.52,424.27 405.1,422.43 403.68,424.27 403.61,421.95 401.38,422.6 402.69,420.68 400.5,419.9 402.69,419.12 401.38,417.2 403.61,417.85 403.68,415.53 405.1,417.37 406.52,415.53 406.59,417.85 408.82,417.2 407.51,419.12" fill="#0a2a80"/>
<circle cx="405.1" cy="419.9" r="1.4" fill="#f0e040"/>
<polygon points="429.6,412 427.41,412.78 428.72,414.7 426.49,414.05 426.42,416.37 425,414.53 423.58,416.37 423.51,414.05 421.28,414.7 422.59,412.78 420.4,412 422.59,411.22 421.28,409.3 423.51,409.95 423.58,407.63 425,409.47 426.42,407.63 426.49,409.95 428.72,409.3 427.41,411.22" fill="#0a2a80"/>
<circle cx="425" cy="412" r="1.4" fill="#f0e040"/>
<polygon points="409.7,442 407.51,442.78 408.82,444.7 406.59,444.05 406.52,446.37 405.1,444.53 403.68,446.37 403.61,444.05 401.38,444.7 402.69,442.78 400.5,442 402.69,441.22 401.38,439.3 403.61,439.95 403.68,437.63 405.1,439.47 406.52,437.63 406.59,439.95 408.82,439.3 407.51,441.22" fill="#0a2a80"/>
<circle cx="405.1" cy="442" r="1.4" fill="#f0e040"/>
<circle cx="387.6" cy="410" r="0.9" fill="#0a2a80"/>
<circle cx="387.6" cy="434.6" r="0.9" fill="#0a2a80"/>
<circle cx="337" cy="430" r="0.9" fill="#0a2a80"/>
<line x1="605.3" y1="427.5" x2="613.7" y2="420.6" stroke="#a0a0a0" stroke-width="1.6" />
<line x1="613.7" y1="420.6" x2="622.2" y2="413.7" stroke="#a0a0a0" stroke-width="1.6" />
<line x1="622.2" y1="413.7" x2="630.6" y2="407.6" stroke="#a0a0a0" stroke-width="1.6" />
<circle cx="605.3" cy="427.5" r="2.9" fill="url(#gYH)"/>
<circle cx="613.7" cy="420.6" r="3.8" fill="url(#gCG)"/>
<circle cx="622.2" cy="413.7" r="3.8" fill="url(#gCG)"/>
<circle cx="630.6" cy="407.6" r="2.9" fill="url(#gYH)"/>
<line x1="626.8" y1="433.6" x2="635.2" y2="426.7" stroke="#a0a0a0" stroke-width="1.6" />
<line x1="635.2" y1="426.7" x2="643.6" y2="419.5" stroke="#a0a0a0" stroke-width="1.6" />
<line x1="643.6" y1="419.5" x2="652" y2="413.7" stroke="#a0a0a0" stroke-width="1.6" />
<circle cx="626.8" cy="433.6" r="2.9" fill="url(#gYH)"/>
<circle cx="635.2" cy="426.7" r="3.8" fill="url(#gCG)"/>
<circle cx="643.6" cy="419.5" r="3.8" fill="url(#gCG)"/>
<circle cx="652" cy="413.7" r="2.9" fill="url(#gYH)"/>
<line x1="642.1" y1="432.9" x2="653.6" y2="434.4" stroke="#d8d070" stroke-width="1.6" />
<line x1="647.4" y1="442.8" x2="653.6" y2="434.4" stroke="#d8d070" stroke-width="1.6" />
<line x1="669.7" y1="422.2" x2="663.5" y2="430.6" stroke="#d8d070" stroke-width="1.6" />
<line x1="674.3" y1="432.1" x2="663.5" y2="430.6" stroke="#d8d070" stroke-width="1.6" />
<line x1="653.6" y1="434.4" x2="663.5" y2="430.6" stroke="#a0a0a0" stroke-width="2" />
<circle cx="642.1" cy="432.9" r="2.9" fill="url(#gYH)"/>
<circle cx="647.4" cy="442.8" r="2.9" fill="url(#gYH)"/>
<circle cx="669.7" cy="422.2" r="2.9" fill="url(#gYH)"/>
<circle cx="674.3" cy="432.1" r="2.9" fill="url(#gYH)"/>
<circle cx="653.6" cy="434.4" r="3.8" fill="url(#gCG)"/>
<circle cx="663.5" cy="430.6" r="3.8" fill="url(#gCG)"/>
<path d="M463,534.5 C463,525 469,520.4 475.5,520.4 C482,520.4 488,525 488,534.5 Z" fill="url(#gDome)" stroke="#d8d8d8" stroke-width="0.4"/>
<text x="496.1" y="532.7" font-size="12.5" font-family="'Liberation Sans', sans-serif" fill="#111" font-weight="bold" textLength="46.7" lengthAdjust="spacingAndGlyphs" >Na<tspan baseline-shift="-28%" font-size="72%">2</tspan>WO<tspan baseline-shift="-28%" font-size="72%">4</tspan></text>
<ellipse cx="569.3" cy="528.6" rx="10.5" ry="11.8" fill="url(#gBlob)" transform="rotate(-25 569.3 528.6)"/>
<text x="588.7" y="532.7" font-size="12.5" font-family="'Liberation Sans', sans-serif" fill="#111" font-weight="bold" textLength="36.5" lengthAdjust="spacingAndGlyphs" >Mn<tspan baseline-shift="-28%" font-size="72%">3</tspan>O<tspan baseline-shift="-28%" font-size="72%">4</tspan></text>
</svg></body></html>
